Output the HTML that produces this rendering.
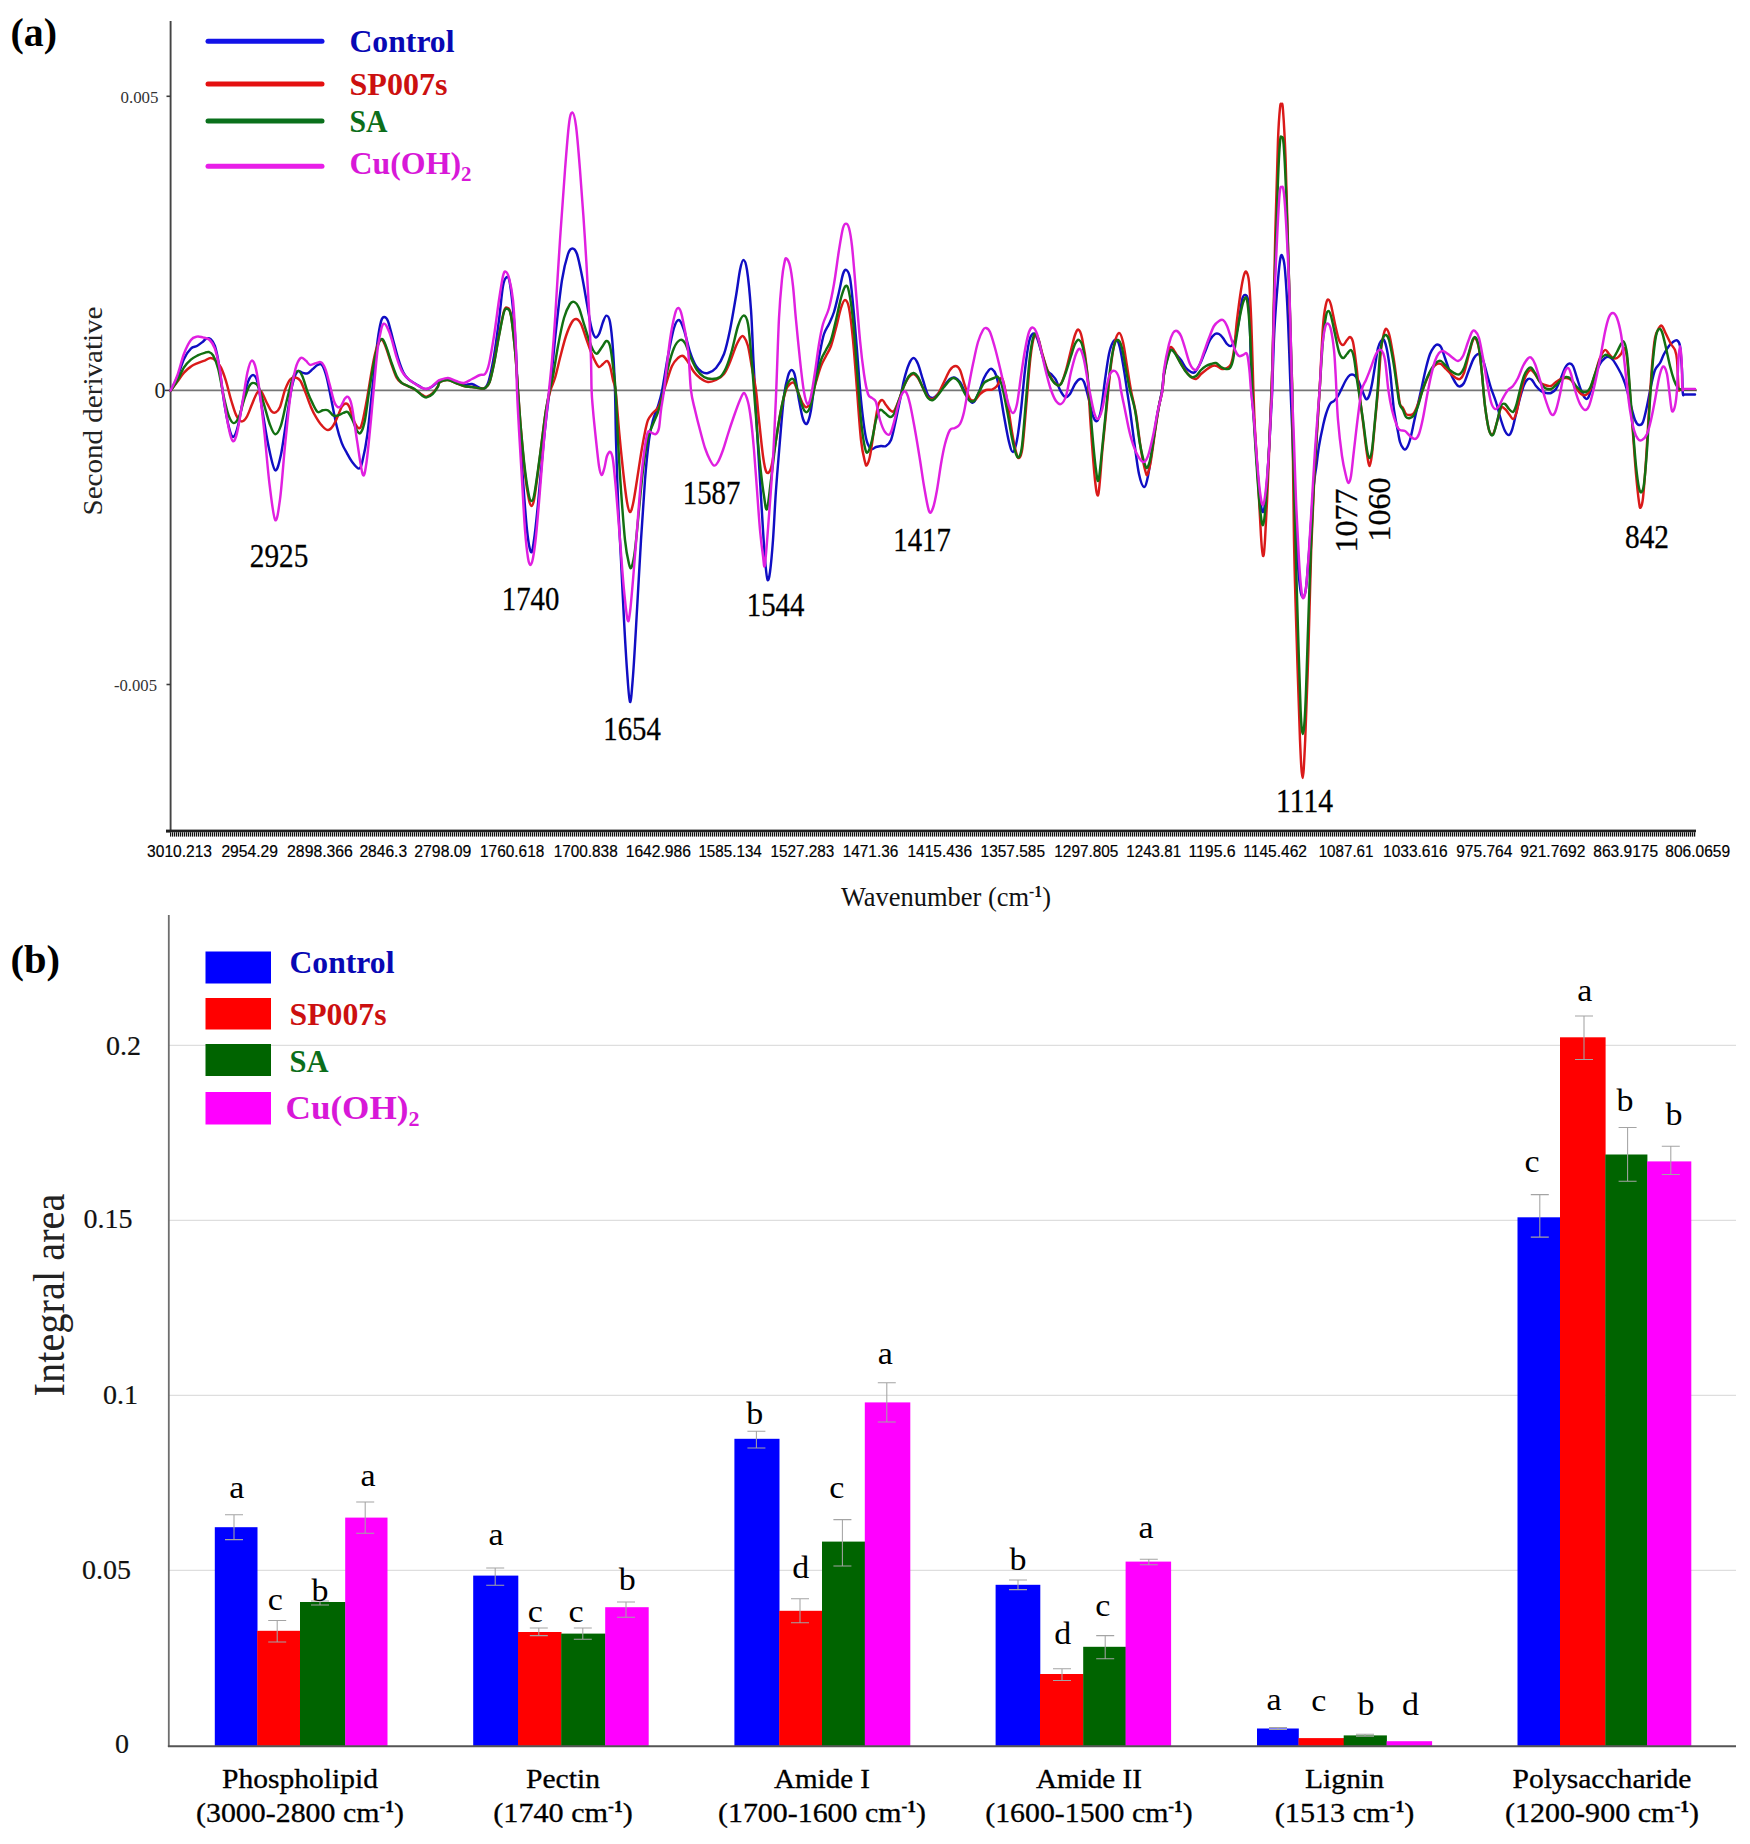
<!DOCTYPE html>
<html lang="en"><head><meta charset="utf-8"><title>FTIR second derivative spectra and integral areas</title>
<style>html,body{margin:0;padding:0;background:#fff}body{width:1750px;height:1844px;overflow:hidden}svg{display:block}.ser{font-family:'Liberation Serif', 'DejaVu Serif', serif}.san{font-family:'Liberation Sans', 'DejaVu Sans', sans-serif}</style></head><body>
<svg width="1750" height="1844" viewBox="0 0 1750 1844">
<rect width="1750" height="1844" fill="#fff"/>
<g id="panel-a">
<text x="10.5" y="46.0" font-size="39.5" class="ser" font-weight="bold" fill="#000" textLength="46.5" lengthAdjust="spacingAndGlyphs">(a)</text>
<line x1="170.6" y1="21" x2="170.6" y2="831.3" stroke="#444" stroke-width="1.9"/>
<line x1="170.6" y1="390.4" x2="1697" y2="390.4" stroke="#777" stroke-width="1.8"/>
<line x1="166.5" y1="96.3" x2="170.6" y2="96.3" stroke="#3c3c3c" stroke-width="1.6"/>
<line x1="166.5" y1="684.5" x2="170.6" y2="684.5" stroke="#3c3c3c" stroke-width="1.6"/>
<line x1="165" y1="390.4" x2="170.6" y2="390.4" stroke="#3c3c3c" stroke-width="1.6"/>
<text x="158.5" y="103.0" font-size="16.0" class="ser" text-anchor="end" fill="#333" textLength="38.0" lengthAdjust="spacingAndGlyphs">0.005</text>
<text x="157.0" y="691.0" font-size="16.0" class="ser" text-anchor="end" fill="#333" textLength="43.0" lengthAdjust="spacingAndGlyphs">-0.005</text>
<text x="165.5" y="398.0" font-size="23.0" class="ser" text-anchor="end" fill="#222" textLength="11.0" lengthAdjust="spacingAndGlyphs">0</text>
<text x="102.0" y="411.0" font-size="28.0" class="ser" text-anchor="middle" fill="#222" textLength="209.0" lengthAdjust="spacingAndGlyphs" transform="rotate(-90 102.0 411.0)">Second derivative</text>
<rect x="166" y="829.6" width="1530.0" height="3" fill="#1e1e1e"/>
<defs><pattern id="tk" x="170" y="832" width="2" height="5" patternUnits="userSpaceOnUse"><rect x="0" y="0" width="1" height="5" fill="#111"/><rect x="1" y="0" width="1" height="5" fill="#c4c4c4"/></pattern></defs>
<rect x="170" y="832.4" width="1526" height="4.2" fill="url(#tk)"/>
<text x="147.1" y="856.8" font-size="16.6" class="san" fill="#000" textLength="64.9" lengthAdjust="spacingAndGlyphs" stroke="#000" stroke-width="0.2">3010.213</text>
<text x="221.4" y="856.8" font-size="16.6" class="san" fill="#000" textLength="56.6" lengthAdjust="spacingAndGlyphs" stroke="#000" stroke-width="0.2">2954.29</text>
<text x="287.1" y="856.8" font-size="16.6" class="san" fill="#000" textLength="65.8" lengthAdjust="spacingAndGlyphs" stroke="#000" stroke-width="0.2">2898.366</text>
<text x="359.4" y="856.8" font-size="16.6" class="san" fill="#000" textLength="47.7" lengthAdjust="spacingAndGlyphs" stroke="#000" stroke-width="0.2">2846.3</text>
<text x="414.3" y="856.8" font-size="16.6" class="san" fill="#000" textLength="57.1" lengthAdjust="spacingAndGlyphs" stroke="#000" stroke-width="0.2">2798.09</text>
<text x="480.0" y="856.8" font-size="16.6" class="san" fill="#000" textLength="64.3" lengthAdjust="spacingAndGlyphs" stroke="#000" stroke-width="0.2">1760.618</text>
<text x="553.7" y="856.8" font-size="16.6" class="san" fill="#000" textLength="64.0" lengthAdjust="spacingAndGlyphs" stroke="#000" stroke-width="0.2">1700.838</text>
<text x="625.7" y="856.8" font-size="16.6" class="san" fill="#000" textLength="65.2" lengthAdjust="spacingAndGlyphs" stroke="#000" stroke-width="0.2">1642.986</text>
<text x="698.4" y="856.8" font-size="16.6" class="san" fill="#000" textLength="63.4" lengthAdjust="spacingAndGlyphs" stroke="#000" stroke-width="0.2">1585.134</text>
<text x="770.4" y="856.8" font-size="16.6" class="san" fill="#000" textLength="63.8" lengthAdjust="spacingAndGlyphs" stroke="#000" stroke-width="0.2">1527.283</text>
<text x="842.7" y="856.8" font-size="16.6" class="san" fill="#000" textLength="55.6" lengthAdjust="spacingAndGlyphs" stroke="#000" stroke-width="0.2">1471.36</text>
<text x="907.5" y="856.8" font-size="16.6" class="san" fill="#000" textLength="64.5" lengthAdjust="spacingAndGlyphs" stroke="#000" stroke-width="0.2">1415.436</text>
<text x="980.6" y="856.8" font-size="16.6" class="san" fill="#000" textLength="64.4" lengthAdjust="spacingAndGlyphs" stroke="#000" stroke-width="0.2">1357.585</text>
<text x="1054.3" y="856.8" font-size="16.6" class="san" fill="#000" textLength="64.1" lengthAdjust="spacingAndGlyphs" stroke="#000" stroke-width="0.2">1297.805</text>
<text x="1126.3" y="856.8" font-size="16.6" class="san" fill="#000" textLength="54.8" lengthAdjust="spacingAndGlyphs" stroke="#000" stroke-width="0.2">1243.81</text>
<text x="1188.4" y="856.8" font-size="16.6" class="san" fill="#000" textLength="47.3" lengthAdjust="spacingAndGlyphs" stroke="#000" stroke-width="0.2">1195.6</text>
<text x="1243.3" y="856.8" font-size="16.6" class="san" fill="#000" textLength="63.7" lengthAdjust="spacingAndGlyphs" stroke="#000" stroke-width="0.2">1145.462</text>
<text x="1318.7" y="856.8" font-size="16.6" class="san" fill="#000" textLength="54.8" lengthAdjust="spacingAndGlyphs" stroke="#000" stroke-width="0.2">1087.61</text>
<text x="1383.1" y="856.8" font-size="16.6" class="san" fill="#000" textLength="64.5" lengthAdjust="spacingAndGlyphs" stroke="#000" stroke-width="0.2">1033.616</text>
<text x="1456.2" y="856.8" font-size="16.6" class="san" fill="#000" textLength="56.2" lengthAdjust="spacingAndGlyphs" stroke="#000" stroke-width="0.2">975.764</text>
<text x="1520.3" y="856.8" font-size="16.6" class="san" fill="#000" textLength="65.1" lengthAdjust="spacingAndGlyphs" stroke="#000" stroke-width="0.2">921.7692</text>
<text x="1593.3" y="856.8" font-size="16.6" class="san" fill="#000" textLength="64.8" lengthAdjust="spacingAndGlyphs" stroke="#000" stroke-width="0.2">863.9175</text>
<text x="1665.3" y="856.8" font-size="16.6" class="san" fill="#000" textLength="64.8" lengthAdjust="spacingAndGlyphs" stroke="#000" stroke-width="0.2">806.0659</text>
<text x="946" y="906" font-size="27" class="ser" text-anchor="middle" fill="#111" textLength="210" lengthAdjust="spacingAndGlyphs">Wavenumber (cm<tspan font-size="16" dy="-9" font-weight="bold">-1</tspan><tspan dy="9">)</tspan></text>
<g stroke-width="5" stroke-linecap="round">
<line x1="208" y1="41.2" x2="322" y2="41.2" stroke="#1212e8"/>
<line x1="208" y1="84" x2="322" y2="84" stroke="#e41010"/>
<line x1="208" y1="121" x2="322" y2="121" stroke="#0a701c"/>
<line x1="208" y1="166.3" x2="322" y2="166.3" stroke="#e81ee8"/>
</g>
<text x="349.5" y="51.5" font-size="32.0" class="ser" font-weight="bold" fill="#0808b4" textLength="105.0" lengthAdjust="spacingAndGlyphs">Control</text>
<text x="349.5" y="95.3" font-size="32.0" class="ser" font-weight="bold" fill="#cc1010" textLength="98.0" lengthAdjust="spacingAndGlyphs">SP007s</text>
<text x="349.5" y="132.3" font-size="32.0" class="ser" font-weight="bold" fill="#0c6e1a" textLength="38.0" lengthAdjust="spacingAndGlyphs">SA</text>
<text x="349.5" y="174" font-size="32" class="ser" font-weight="bold" fill="#d818d8" textLength="122" lengthAdjust="spacingAndGlyphs">Cu(OH)<tspan font-size="21" dy="7">2</tspan></text>
<g fill="none" stroke-width="2.45" stroke-linejoin="round" stroke-linecap="round">
<path stroke="#100ec4" d="M170.6 390.6C171.7 388.4 174.9 383.0 177.1 377.7C179.4 372.4 181.7 363.7 184.0 358.9C186.3 354.0 188.7 350.7 190.9 348.6C193.0 346.4 194.9 347.1 196.9 346.0C198.9 344.9 201.3 342.9 202.9 341.7C204.4 340.5 205.0 339.1 206.3 338.6C207.6 338.2 209.1 337.9 210.6 339.1C212.0 340.4 213.4 341.6 214.9 346.0C216.3 350.4 217.6 356.1 219.1 365.7C220.7 375.3 222.6 392.9 224.3 403.4C226.0 414.0 227.9 423.6 229.4 429.1C230.9 434.7 231.9 437.4 233.4 436.9C234.8 436.3 236.4 431.9 238.0 425.7C239.6 419.6 241.4 407.4 243.1 400.0C244.9 392.6 246.6 385.3 248.3 381.1C250.0 377.0 251.9 374.9 253.4 375.1C255.0 375.4 256.1 376.4 257.7 382.9C259.3 389.3 261.0 402.9 262.9 413.7C264.7 424.6 266.8 438.6 268.9 448.0C270.9 457.4 273.2 469.1 275.2 470.3C277.2 471.4 278.9 463.7 280.9 454.9C282.8 446.0 285.0 428.6 286.9 417.1C288.7 405.7 290.3 393.9 292.0 386.3C293.7 378.7 295.4 374.0 297.1 371.7C298.9 369.4 300.6 372.3 302.3 372.6C304.0 372.9 305.7 374.0 307.4 373.4C309.1 372.9 310.9 370.6 312.6 369.1C314.3 367.7 316.1 365.6 317.7 364.9C319.3 364.1 320.6 363.0 322.0 364.9C323.4 366.7 324.7 370.1 326.3 376.0C327.9 381.9 329.7 391.7 331.4 400.0C333.1 408.3 334.9 418.6 336.6 425.7C338.3 432.9 340.0 438.3 341.7 442.9C343.4 447.4 345.1 450.0 346.9 453.1C348.6 456.3 350.0 459.1 352.0 461.7C354.0 464.3 357.1 468.6 358.9 468.6C360.6 468.6 360.9 467.4 362.3 461.7C363.7 456.0 365.7 446.9 367.4 434.3C369.1 421.7 370.9 402.0 372.6 386.3C374.3 370.6 376.3 350.9 377.7 340.0C379.1 329.1 380.1 325.0 381.1 321.1C382.2 317.3 383.1 316.9 384.2 316.9C385.4 316.9 386.5 317.3 388.0 321.1C389.5 325.0 391.4 333.7 393.1 340.0C394.9 346.3 396.6 353.4 398.3 358.9C400.0 364.3 401.7 369.1 403.4 372.6C405.1 376.0 406.6 377.6 408.6 379.4C410.6 381.3 413.1 382.3 415.4 383.7C417.7 385.1 420.3 387.1 422.3 388.0C424.3 388.9 425.7 389.1 427.4 388.9C429.1 388.6 430.9 387.4 432.6 386.3C434.3 385.1 436.5 382.9 437.7 382.0C439.0 381.1 438.3 381.5 440.0 381.0C441.7 380.5 445.3 378.8 448.0 379.0C450.7 379.2 453.3 381.0 456.0 382.0C458.7 383.0 461.3 384.7 464.0 385.0C466.7 385.3 469.3 383.5 472.0 384.0C474.7 384.5 477.8 387.3 480.0 388.0C482.2 388.7 483.5 389.3 485.0 388.0C486.5 386.7 487.5 385.3 489.0 380.0C490.5 374.7 492.3 366.0 494.0 356.0C495.7 346.0 497.5 331.7 499.0 320.0C500.5 308.3 501.7 293.2 503.0 286.0C504.3 278.8 505.8 277.3 507.0 277.0C508.2 276.7 508.8 276.8 510.0 284.0C511.2 291.2 512.9 307.3 514.0 320.0C515.1 332.7 515.8 348.3 516.4 360.0C517.0 371.7 517.0 378.7 517.6 390.4C518.2 402.1 519.1 415.1 520.0 430.0C520.9 444.9 521.8 463.3 523.0 480.0C524.2 496.7 525.7 518.0 527.0 530.0C528.3 542.0 529.8 550.3 531.0 552.0C532.2 553.7 532.8 548.0 534.0 540.0C535.2 532.0 536.7 517.3 538.0 504.0C539.3 490.7 540.7 474.0 542.0 460.0C543.3 446.0 544.7 431.6 546.0 420.0C547.3 408.4 548.6 398.7 549.6 390.4C550.6 382.1 550.9 380.1 552.0 370.0C553.1 359.9 554.3 345.0 556.0 330.0C557.7 315.0 560.0 292.7 562.0 280.0C564.0 267.3 566.3 259.3 568.0 254.0C569.7 248.7 570.9 248.4 572.4 248.4C573.9 248.4 575.4 249.4 577.0 254.0C578.6 258.6 580.3 267.7 582.0 276.0C583.7 284.3 585.5 295.7 587.0 304.0C588.5 312.3 589.7 320.5 591.0 326.0C592.3 331.5 593.7 335.7 595.0 337.0C596.3 338.3 597.7 336.5 599.0 334.0C600.3 331.5 601.8 325.1 603.0 322.0C604.2 318.9 605.2 315.6 606.4 315.6C607.6 315.6 608.9 316.3 610.0 322.0C611.1 327.7 612.2 338.6 613.0 350.0C613.8 361.4 614.5 375.4 615.0 390.4C615.5 405.4 615.5 421.7 616.0 440.0C616.5 458.3 617.2 480.0 618.0 500.0C618.8 520.0 620.0 540.0 621.0 560.0C622.0 580.0 623.0 601.7 624.0 620.0C625.0 638.3 626.0 656.3 627.0 670.0C628.0 683.7 629.0 701.0 630.0 702.0C631.0 703.0 631.8 691.3 633.0 676.0C634.2 660.7 635.7 632.7 637.0 610.0C638.3 587.3 639.7 561.7 641.0 540.0C642.3 518.3 643.7 496.7 645.0 480.0C646.3 463.3 647.7 450.0 649.0 440.0C650.3 430.0 651.5 425.7 653.0 420.0C654.5 414.3 656.5 410.8 658.0 406.0C659.5 401.2 660.3 399.3 662.0 391.0C663.7 382.7 666.0 366.5 668.0 356.0C670.0 345.5 672.2 334.0 674.0 328.0C675.8 322.0 677.3 319.7 679.0 320.0C680.7 320.3 682.2 324.7 684.0 330.0C685.8 335.3 688.0 346.0 690.0 352.0C692.0 358.0 694.0 362.7 696.0 366.0C698.0 369.3 700.0 370.8 702.0 372.0C704.0 373.2 705.7 373.7 708.0 373.0C710.3 372.3 713.3 371.2 716.0 368.0C718.7 364.8 721.7 360.3 724.0 354.0C726.3 347.7 728.0 339.7 730.0 330.0C732.0 320.3 734.3 306.0 736.0 296.0C737.7 286.0 738.8 276.0 740.0 270.0C741.2 264.0 742.2 260.0 743.4 260.0C744.6 260.0 745.7 261.7 747.0 270.0C748.3 278.3 749.9 295.0 751.0 310.0C752.1 325.0 752.7 346.6 753.4 360.0C754.1 373.4 754.4 378.7 755.0 390.4C755.6 402.1 756.2 415.1 757.0 430.0C757.8 444.9 759.0 463.3 760.0 480.0C761.0 496.7 762.1 515.7 763.0 530.0C763.9 544.3 764.8 557.7 765.6 566.0C766.4 574.3 766.9 579.0 767.6 580.0C768.3 581.0 769.1 578.7 770.0 572.0C770.9 565.3 772.0 553.7 773.0 540.0C774.0 526.3 774.8 506.7 776.0 490.0C777.2 473.3 778.7 455.7 780.0 440.0C781.3 424.3 782.7 406.7 784.0 396.0C785.3 385.3 786.7 380.3 788.0 376.0C789.3 371.7 790.4 370.0 791.6 370.0C792.8 370.0 793.8 371.0 795.0 376.0C796.2 381.0 797.7 392.8 799.0 400.0C800.3 407.2 801.7 415.1 803.0 419.0C804.3 422.9 805.7 425.1 807.0 423.6C808.3 422.1 809.7 417.3 811.0 410.0C812.3 402.7 813.5 389.7 815.0 380.0C816.5 370.3 818.5 359.7 820.0 352.0C821.5 344.3 822.5 338.7 824.0 334.0C825.5 329.3 827.3 327.7 829.0 324.0C830.7 320.3 832.3 317.3 834.0 312.0C835.7 306.7 837.5 298.3 839.0 292.0C840.5 285.7 841.8 277.7 843.0 274.0C844.2 270.3 845.2 269.3 846.4 270.0C847.6 270.7 848.9 272.3 850.0 278.0C851.1 283.7 851.8 292.0 853.0 304.0C854.2 316.0 855.7 334.0 857.0 350.0C858.3 366.0 859.5 385.3 861.0 400.0C862.5 414.7 864.3 429.8 866.0 438.0C867.7 446.2 869.3 447.5 871.0 449.0C872.7 450.5 874.3 447.5 876.0 447.0C877.7 446.5 879.3 446.2 881.0 446.0C882.7 445.8 884.3 447.0 886.0 446.0C887.7 445.0 889.5 443.7 891.0 440.0C892.5 436.3 893.5 430.7 895.0 424.0C896.5 417.3 898.5 407.3 900.0 400.0C901.5 392.7 902.5 386.0 904.0 380.0C905.5 374.0 907.4 367.7 909.0 364.0C910.6 360.3 912.1 358.0 913.6 358.0C915.1 358.0 916.4 360.3 918.0 364.0C919.6 367.7 921.3 374.8 923.0 380.0C924.7 385.2 926.3 392.0 928.0 395.0C929.7 398.0 931.3 398.2 933.0 398.0C934.7 397.8 936.2 396.0 938.0 394.0C939.8 392.0 942.0 388.5 944.0 386.0C946.0 383.5 948.2 380.4 950.0 379.0C951.8 377.6 953.3 377.1 955.0 377.6C956.7 378.1 958.3 379.6 960.0 382.0C961.7 384.4 963.3 388.8 965.0 392.0C966.7 395.2 968.5 399.3 970.0 401.0C971.5 402.7 972.5 403.5 974.0 402.0C975.5 400.5 977.3 396.0 979.0 392.0C980.7 388.0 982.3 381.7 984.0 378.0C985.7 374.3 987.7 371.5 989.0 370.0C990.3 368.5 990.8 368.2 992.0 369.0C993.2 369.8 994.7 371.2 996.0 375.0C997.3 378.8 998.7 385.2 1000.0 392.0C1001.3 398.8 1002.5 407.7 1004.0 416.0C1005.5 424.3 1007.5 436.0 1009.0 442.0C1010.5 448.0 1011.7 452.3 1013.0 452.0C1014.3 451.7 1015.7 447.0 1017.0 440.0C1018.3 433.0 1019.7 421.7 1021.0 410.0C1022.3 398.3 1023.7 381.3 1025.0 370.0C1026.3 358.7 1027.7 348.1 1029.0 342.0C1030.3 335.9 1031.7 334.3 1033.0 333.6C1034.3 332.9 1035.5 334.6 1037.0 338.0C1038.5 341.4 1040.3 348.7 1042.0 354.0C1043.7 359.3 1045.3 366.5 1047.0 370.0C1048.7 373.5 1050.5 373.3 1052.0 375.0C1053.5 376.7 1054.7 377.5 1056.0 380.0C1057.3 382.5 1058.5 387.2 1060.0 390.0C1061.5 392.8 1063.3 396.3 1065.0 397.0C1066.7 397.7 1068.3 396.2 1070.0 394.0C1071.7 391.8 1073.3 386.5 1075.0 384.0C1076.7 381.5 1078.5 379.3 1080.0 379.0C1081.5 378.7 1082.5 378.5 1084.0 382.0C1085.5 385.5 1087.5 394.3 1089.0 400.0C1090.5 405.7 1091.7 412.5 1093.0 416.0C1094.3 419.5 1095.7 422.0 1097.0 421.0C1098.3 420.0 1099.7 416.8 1101.0 410.0C1102.3 403.2 1103.7 389.3 1105.0 380.0C1106.3 370.7 1107.7 360.3 1109.0 354.0C1110.3 347.7 1111.7 344.3 1113.0 342.0C1114.3 339.7 1115.8 339.0 1117.0 340.0C1118.2 341.0 1118.8 343.0 1120.0 348.0C1121.2 353.0 1122.8 362.9 1124.0 370.0C1125.2 377.1 1126.0 383.7 1127.0 390.4C1128.0 397.1 1128.8 401.7 1130.0 410.0C1131.2 418.3 1132.5 429.3 1134.0 440.0C1135.5 450.7 1137.3 466.2 1139.0 474.0C1140.7 481.8 1142.5 486.7 1144.0 487.0C1145.5 487.3 1146.7 482.2 1148.0 476.0C1149.3 469.8 1150.5 460.0 1152.0 450.0C1153.5 440.0 1155.3 425.9 1157.0 416.0C1158.7 406.1 1160.8 397.4 1162.0 390.4C1163.2 383.4 1162.8 380.4 1164.0 374.0C1165.2 367.6 1167.7 356.0 1169.0 352.0C1170.3 348.0 1170.8 349.7 1172.0 350.0C1173.2 350.3 1174.5 352.3 1176.0 354.0C1177.5 355.7 1179.3 357.7 1181.0 360.0C1182.7 362.3 1184.3 366.0 1186.0 368.0C1187.7 370.0 1189.5 371.3 1191.0 372.0C1192.5 372.7 1193.5 373.3 1195.0 372.0C1196.5 370.7 1198.3 367.3 1200.0 364.0C1201.7 360.7 1203.3 356.0 1205.0 352.0C1206.7 348.0 1208.3 343.0 1210.0 340.0C1211.7 337.0 1213.5 335.0 1215.0 334.0C1216.5 333.0 1217.7 333.3 1219.0 334.0C1220.3 334.7 1221.7 336.3 1223.0 338.0C1224.3 339.7 1225.7 342.7 1227.0 344.0C1228.3 345.3 1229.7 346.7 1231.0 346.0C1232.3 345.3 1233.7 344.3 1235.0 340.0C1236.3 335.7 1237.8 326.7 1239.0 320.0C1240.2 313.3 1241.0 304.2 1242.0 300.0C1243.0 295.8 1244.0 295.0 1245.0 295.0C1246.0 295.0 1247.2 294.2 1248.0 300.0C1248.8 305.8 1249.4 314.9 1250.0 330.0C1250.6 345.1 1250.9 375.4 1251.6 390.4C1252.3 405.4 1253.1 407.7 1254.0 420.0C1254.9 432.3 1256.0 451.0 1257.0 464.0C1258.0 477.0 1259.0 490.0 1260.0 498.0C1261.0 506.0 1262.0 512.7 1263.0 512.0C1264.0 511.3 1265.0 504.3 1266.0 494.0C1267.0 483.7 1268.1 464.0 1269.0 450.0C1269.9 436.0 1270.7 419.9 1271.2 410.0C1271.7 400.1 1271.7 403.7 1272.2 390.4C1272.7 377.1 1273.4 348.4 1274.4 330.0C1275.4 311.6 1277.0 292.0 1278.0 280.0C1279.0 268.0 1279.7 261.9 1280.4 258.0C1281.1 254.1 1281.6 254.4 1282.4 256.4C1283.2 258.4 1284.1 259.4 1285.0 270.0C1285.9 280.6 1287.1 299.9 1288.0 320.0C1288.9 340.1 1289.9 372.1 1290.6 390.4C1291.3 408.7 1291.5 411.7 1292.2 430.0C1292.9 448.3 1293.7 478.3 1294.6 500.0C1295.5 521.7 1296.6 545.0 1297.6 560.0C1298.6 575.0 1299.5 583.8 1300.4 590.0C1301.3 596.2 1302.3 597.3 1303.2 597.0C1304.1 596.7 1305.0 595.8 1306.0 588.0C1307.0 580.2 1308.1 564.3 1309.2 550.0C1310.3 535.7 1311.5 513.7 1312.4 502.0C1313.3 490.3 1313.7 486.0 1314.4 480.0C1315.1 474.0 1315.6 471.7 1316.4 466.0C1317.2 460.3 1317.9 452.7 1319.0 446.0C1320.1 439.3 1321.8 431.3 1323.0 426.0C1324.2 420.7 1324.8 417.7 1326.0 414.0C1327.2 410.3 1328.7 406.2 1330.0 404.0C1331.3 401.8 1332.7 402.3 1334.0 401.0C1335.3 399.7 1336.7 398.2 1338.0 396.0C1339.3 393.8 1340.7 390.7 1342.0 388.0C1343.3 385.3 1344.7 382.2 1346.0 380.0C1347.3 377.8 1348.7 375.8 1350.0 375.0C1351.3 374.2 1352.7 374.2 1354.0 375.0C1355.3 375.8 1356.7 377.5 1358.0 380.0C1359.3 382.5 1360.7 386.8 1362.0 390.0C1363.3 393.2 1364.8 398.0 1366.0 399.0C1367.2 400.0 1368.0 398.5 1369.0 396.0C1370.0 393.5 1371.0 389.0 1372.0 384.0C1373.0 379.0 1374.0 372.0 1375.0 366.0C1376.0 360.0 1377.0 352.2 1378.0 348.0C1379.0 343.8 1380.0 342.3 1381.0 341.0C1382.0 339.7 1383.0 338.5 1384.0 340.0C1385.0 341.5 1386.0 345.0 1387.0 350.0C1388.0 355.0 1389.2 363.3 1390.0 370.0C1390.8 376.7 1391.3 383.7 1392.0 390.4C1392.7 397.1 1393.0 403.1 1394.0 410.0C1395.0 416.9 1397.0 426.7 1398.0 432.0C1399.0 437.3 1399.2 439.3 1400.0 442.0C1400.8 444.7 1402.0 446.8 1403.0 448.0C1404.0 449.2 1404.8 450.3 1406.0 449.0C1407.2 447.7 1408.7 444.5 1410.0 440.0C1411.3 435.5 1412.7 428.0 1414.0 422.0C1415.3 416.0 1416.7 410.0 1418.0 404.0C1419.3 398.0 1420.7 392.0 1422.0 386.0C1423.3 380.0 1424.7 373.3 1426.0 368.0C1427.3 362.7 1428.7 357.5 1430.0 354.0C1431.3 350.5 1432.8 348.6 1434.0 347.0C1435.2 345.4 1435.8 344.4 1437.0 344.4C1438.2 344.4 1439.7 344.7 1441.0 347.0C1442.3 349.3 1443.5 353.8 1445.0 358.0C1446.5 362.2 1448.3 368.0 1450.0 372.0C1451.7 376.0 1453.5 379.6 1455.0 382.0C1456.5 384.4 1457.5 386.2 1459.0 386.4C1460.5 386.6 1462.3 385.7 1464.0 383.0C1465.7 380.3 1467.3 374.2 1469.0 370.0C1470.7 365.8 1472.3 360.7 1474.0 358.0C1475.7 355.3 1477.5 353.7 1479.0 354.0C1480.5 354.3 1481.7 356.7 1483.0 360.0C1484.3 363.3 1485.7 369.3 1487.0 374.0C1488.3 378.7 1489.5 383.3 1491.0 388.0C1492.5 392.7 1494.3 396.7 1496.0 402.0C1497.7 407.3 1499.5 415.2 1501.0 420.0C1502.5 424.8 1503.7 428.5 1505.0 431.0C1506.3 433.5 1507.8 435.2 1509.0 435.0C1510.2 434.8 1510.8 433.5 1512.0 430.0C1513.2 426.5 1514.7 419.3 1516.0 414.0C1517.3 408.7 1518.7 402.8 1520.0 398.0C1521.3 393.2 1522.7 388.2 1524.0 385.0C1525.3 381.8 1526.7 379.8 1528.0 379.0C1529.3 378.2 1530.7 378.8 1532.0 380.0C1533.3 381.2 1534.5 384.2 1536.0 386.0C1537.5 387.8 1539.3 389.8 1541.0 391.0C1542.7 392.2 1544.3 392.7 1546.0 393.0C1547.7 393.3 1549.3 393.7 1551.0 393.0C1552.7 392.3 1554.3 391.5 1556.0 389.0C1557.7 386.5 1559.5 381.5 1561.0 378.0C1562.5 374.5 1563.7 370.4 1565.0 368.0C1566.3 365.6 1567.7 363.9 1569.0 363.6C1570.3 363.3 1571.7 363.6 1573.0 366.0C1574.3 368.4 1575.7 374.0 1577.0 378.0C1578.3 382.0 1579.7 386.7 1581.0 390.0C1582.3 393.3 1583.8 396.7 1585.0 398.0C1586.2 399.3 1587.0 399.3 1588.0 398.0C1589.0 396.7 1589.8 393.7 1591.0 390.0C1592.2 386.3 1593.5 380.3 1595.0 376.0C1596.5 371.7 1598.3 367.0 1600.0 364.0C1601.7 361.0 1603.5 359.2 1605.0 358.0C1606.5 356.8 1607.7 356.7 1609.0 357.0C1610.3 357.3 1611.5 358.2 1613.0 360.0C1614.5 361.8 1616.3 365.0 1618.0 368.0C1619.7 371.0 1621.5 374.3 1623.0 378.0C1624.5 381.7 1625.7 385.3 1627.0 390.0C1628.3 394.7 1629.7 401.0 1631.0 406.0C1632.3 411.0 1633.7 416.8 1635.0 420.0C1636.3 423.2 1637.7 424.7 1639.0 425.0C1640.3 425.3 1641.7 425.2 1643.0 422.0C1644.3 418.8 1645.7 412.0 1647.0 406.0C1648.3 400.0 1649.7 392.0 1651.0 386.0C1652.3 380.0 1653.5 373.8 1655.0 370.0C1656.5 366.2 1658.5 365.7 1660.0 363.0C1661.5 360.3 1662.5 356.8 1664.0 354.0C1665.5 351.2 1667.5 348.0 1669.0 346.0C1670.5 344.0 1671.7 342.9 1673.0 342.0C1674.3 341.1 1675.8 339.7 1677.0 340.4C1678.2 341.1 1679.2 341.1 1680.0 346.0C1680.8 350.9 1681.5 362.2 1682.0 370.0C1682.5 377.8 1682.4 388.9 1682.8 393.0C1683.2 397.1 1683.4 394.2 1684.4 394.4C1685.4 394.6 1687.2 394.4 1689.0 394.4C1690.8 394.4 1694.0 394.4 1695.0 394.4"/>
<path stroke="#da1a1a" d="M170.6 390.6C171.7 389.1 174.9 385.0 177.1 382.0C179.4 379.0 181.7 375.1 184.0 372.6C186.3 370.0 188.6 368.1 190.9 366.6C193.1 365.0 195.4 364.1 197.7 363.1C200.0 362.1 202.4 361.4 204.6 360.6C206.7 359.7 208.7 358.0 210.6 358.0C212.4 358.0 214.0 359.0 215.7 360.6C217.4 362.1 219.1 364.0 220.9 367.4C222.6 370.9 224.3 375.7 226.0 381.1C227.7 386.6 229.4 394.3 231.1 400.0C232.9 405.7 234.6 411.9 236.3 415.4C238.0 419.0 239.7 421.1 241.4 421.4C243.1 421.7 244.9 419.9 246.6 417.1C248.3 414.4 250.0 409.1 251.7 405.1C253.4 401.1 255.3 395.4 256.9 393.1C258.4 390.9 259.6 390.0 261.1 391.4C262.7 392.9 264.6 398.4 266.3 401.7C268.0 405.0 269.9 409.4 271.4 411.1C273.0 412.9 274.3 413.1 275.7 412.3C277.1 411.6 278.4 410.6 280.0 406.9C281.6 403.1 283.4 394.3 285.1 389.7C286.9 385.1 288.4 381.4 290.3 379.4C292.1 377.4 294.6 377.4 296.3 377.7C298.0 378.0 299.0 378.6 300.6 381.1C302.1 383.7 304.0 388.9 305.7 393.1C307.4 397.4 309.1 402.9 310.9 406.9C312.6 410.9 314.1 414.0 316.0 417.1C317.9 420.3 320.0 423.6 322.0 425.7C324.0 427.9 326.1 430.0 328.0 430.0C329.9 430.0 331.6 427.9 333.1 425.7C334.7 423.6 336.0 420.3 337.4 417.1C338.9 414.0 340.3 409.1 341.7 406.9C343.1 404.6 344.7 403.4 346.0 403.4C347.3 403.4 348.1 404.0 349.4 406.9C350.7 409.7 352.1 417.0 353.7 420.6C355.3 424.1 357.4 428.0 358.9 428.3C360.3 428.6 360.9 427.6 362.3 422.3C363.7 417.0 365.7 406.0 367.4 396.6C369.1 387.1 371.0 374.0 372.6 365.7C374.1 357.4 375.6 351.1 376.9 346.9C378.1 342.6 379.3 341.0 380.3 340.0C381.3 339.0 381.9 339.4 382.9 340.9C383.9 342.3 384.9 344.7 386.3 348.6C387.7 352.4 389.7 359.1 391.4 364.0C393.1 368.9 394.9 374.6 396.6 377.7C398.3 380.9 399.7 381.4 401.7 382.9C403.7 384.3 406.3 385.1 408.6 386.3C410.9 387.4 413.1 388.3 415.4 389.7C417.7 391.1 420.4 393.7 422.3 394.9C424.1 396.0 424.9 396.9 426.6 396.6C428.3 396.3 430.7 394.8 432.6 393.1C434.4 391.5 436.5 388.5 437.7 386.6C439.0 384.8 438.3 383.1 440.0 382.0C441.7 380.9 445.3 379.8 448.0 380.0C450.7 380.2 453.3 382.0 456.0 383.0C458.7 384.0 461.3 385.3 464.0 386.0C466.7 386.7 469.3 386.6 472.0 387.0C474.7 387.4 477.8 388.2 480.0 388.4C482.2 388.6 483.4 389.1 485.0 388.0C486.6 386.9 488.1 386.2 489.6 382.0C491.1 377.8 492.4 370.8 494.0 363.0C495.6 355.2 497.3 343.7 499.0 335.0C500.7 326.3 502.6 315.5 504.0 311.0C505.4 306.5 506.4 307.3 507.6 308.0C508.8 308.7 509.8 308.0 511.0 315.0C512.2 322.0 513.8 337.4 515.0 350.0C516.2 362.6 517.0 377.1 518.0 390.4C519.0 403.7 519.8 416.1 521.0 430.0C522.2 443.9 523.7 462.3 525.0 474.0C526.3 485.7 527.9 494.7 529.0 500.0C530.1 505.3 530.8 506.0 531.6 506.0C532.4 506.0 532.9 505.7 534.0 500.0C535.1 494.3 536.7 482.0 538.0 472.0C539.3 462.0 540.7 450.3 542.0 440.0C543.3 429.7 544.6 418.3 546.0 410.0C547.4 401.7 548.9 395.7 550.4 390.4C551.9 385.1 553.4 383.4 555.0 378.0C556.6 372.6 558.2 365.0 560.0 358.0C561.8 351.0 564.0 342.0 566.0 336.0C568.0 330.0 570.3 324.8 572.0 322.0C573.7 319.2 574.9 318.7 576.4 319.0C577.9 319.3 579.4 320.8 581.0 324.0C582.6 327.2 584.3 333.3 586.0 338.0C587.7 342.7 589.5 348.2 591.0 352.0C592.5 355.8 593.7 358.5 595.0 361.0C596.3 363.5 597.7 366.5 599.0 367.0C600.3 367.5 601.7 365.0 603.0 364.0C604.3 363.0 605.8 360.7 607.0 361.0C608.2 361.3 609.0 362.8 610.0 366.0C611.0 369.2 612.1 375.9 613.0 380.0C613.9 384.1 614.6 382.1 615.6 390.4C616.6 398.7 617.8 416.7 619.0 430.0C620.2 443.3 621.7 458.0 623.0 470.0C624.3 482.0 625.8 495.0 627.0 502.0C628.2 509.0 629.0 511.7 630.0 512.0C631.0 512.3 631.8 509.3 633.0 504.0C634.2 498.7 635.7 488.3 637.0 480.0C638.3 471.7 639.7 462.0 641.0 454.0C642.3 446.0 643.8 437.7 645.0 432.0C646.2 426.3 646.8 423.0 648.0 420.0C649.2 417.0 650.7 415.7 652.0 414.0C653.3 412.3 654.8 411.3 656.0 410.0C657.2 408.7 657.8 408.7 659.0 406.0C660.2 403.3 661.8 397.7 663.0 394.0C664.2 390.3 664.5 388.7 666.0 384.0C667.5 379.3 670.0 370.3 672.0 366.0C674.0 361.7 676.2 359.7 678.0 358.0C679.8 356.3 681.3 355.3 683.0 356.0C684.7 356.7 686.2 359.3 688.0 362.0C689.8 364.7 692.0 369.3 694.0 372.0C696.0 374.7 697.7 376.3 700.0 378.0C702.3 379.7 705.3 381.7 708.0 382.0C710.7 382.3 713.3 381.3 716.0 380.0C718.7 378.7 721.7 377.0 724.0 374.0C726.3 371.0 728.0 366.7 730.0 362.0C732.0 357.3 734.2 350.2 736.0 346.0C737.8 341.8 739.7 338.5 741.0 337.0C742.3 335.5 742.8 335.5 744.0 337.0C745.2 338.5 746.7 340.8 748.0 346.0C749.3 351.2 750.7 360.6 752.0 368.0C753.3 375.4 754.8 381.7 756.0 390.4C757.2 399.1 757.8 409.1 759.0 420.0C760.2 430.9 761.8 447.3 763.0 456.0C764.2 464.7 765.1 470.0 766.4 472.0C767.7 474.0 769.4 473.3 771.0 468.0C772.6 462.7 774.3 449.7 776.0 440.0C777.7 430.3 779.3 418.3 781.0 410.0C782.7 401.7 784.5 394.3 786.0 390.0C787.5 385.7 788.7 385.2 790.0 384.0C791.3 382.8 792.7 381.7 794.0 383.0C795.3 384.3 796.5 388.5 798.0 392.0C799.5 395.5 801.5 401.5 803.0 404.0C804.5 406.5 805.7 407.7 807.0 407.0C808.3 406.3 809.5 404.2 811.0 400.0C812.5 395.8 814.3 387.7 816.0 382.0C817.7 376.3 819.3 370.3 821.0 366.0C822.7 361.7 824.3 359.3 826.0 356.0C827.7 352.7 829.3 350.7 831.0 346.0C832.7 341.3 834.3 334.3 836.0 328.0C837.7 321.7 839.5 312.7 841.0 308.0C842.5 303.3 843.7 300.0 845.0 300.0C846.3 300.0 847.7 301.3 849.0 308.0C850.3 314.7 851.7 326.3 853.0 340.0C854.3 353.7 855.7 373.3 857.0 390.0C858.3 406.7 859.7 428.0 861.0 440.0C862.3 452.0 864.0 457.8 865.0 462.0C866.0 466.2 866.2 466.0 867.0 465.0C867.8 464.0 868.8 461.8 870.0 456.0C871.2 450.2 872.7 438.3 874.0 430.0C875.3 421.7 876.7 411.0 878.0 406.0C879.3 401.0 880.7 400.2 882.0 400.0C883.3 399.8 884.7 403.3 886.0 405.0C887.3 406.7 888.7 409.0 890.0 410.0C891.3 411.0 892.5 412.7 894.0 411.0C895.5 409.3 897.3 404.2 899.0 400.0C900.7 395.8 902.3 389.8 904.0 386.0C905.7 382.2 907.4 379.0 909.0 377.0C910.6 375.0 912.1 373.8 913.6 374.0C915.1 374.2 916.4 375.7 918.0 378.0C919.6 380.3 921.3 384.8 923.0 388.0C924.7 391.2 926.3 395.2 928.0 397.0C929.7 398.8 931.3 399.5 933.0 399.0C934.7 398.5 936.2 396.8 938.0 394.0C939.8 391.2 942.0 386.0 944.0 382.0C946.0 378.0 948.1 372.7 950.0 370.0C951.9 367.3 953.9 366.0 955.6 366.0C957.3 366.0 958.4 366.7 960.0 370.0C961.6 373.3 963.3 381.2 965.0 386.0C966.7 390.8 968.3 396.7 970.0 399.0C971.7 401.3 973.3 400.8 975.0 400.0C976.7 399.2 978.2 395.7 980.0 394.0C981.8 392.3 984.0 390.7 986.0 390.0C988.0 389.3 990.2 390.3 992.0 389.6C993.8 388.9 995.5 387.9 997.0 386.0C998.5 384.1 999.8 378.3 1001.0 378.0C1002.2 377.7 1002.8 379.3 1004.0 384.0C1005.2 388.7 1006.7 398.0 1008.0 406.0C1009.3 414.0 1010.7 424.3 1012.0 432.0C1013.3 439.7 1014.8 447.7 1016.0 452.0C1017.2 456.3 1017.9 458.7 1019.0 458.0C1020.1 457.3 1021.2 457.0 1022.4 448.0C1023.6 439.0 1025.1 419.0 1026.4 404.0C1027.7 389.0 1029.1 369.3 1030.4 358.0C1031.7 346.7 1033.1 339.2 1034.4 336.0C1035.7 332.8 1037.1 336.0 1038.4 339.0C1039.7 342.0 1040.9 348.8 1042.4 354.0C1043.9 359.2 1045.7 365.7 1047.4 370.0C1049.1 374.3 1050.7 377.5 1052.4 380.0C1054.1 382.5 1055.9 384.5 1057.4 385.0C1058.9 385.5 1060.0 385.5 1061.4 383.0C1062.8 380.5 1064.4 375.5 1066.0 370.0C1067.6 364.5 1069.5 355.8 1071.0 350.0C1072.5 344.2 1073.8 338.4 1075.0 335.0C1076.2 331.6 1077.2 329.1 1078.4 329.6C1079.6 330.1 1080.6 331.3 1082.0 338.0C1083.4 344.7 1085.5 354.7 1087.0 370.0C1088.5 385.3 1089.7 411.7 1091.0 430.0C1092.3 448.3 1093.8 469.3 1095.0 480.0C1096.2 490.7 1097.2 499.0 1098.4 494.0C1099.6 489.0 1101.1 464.0 1102.4 450.0C1103.7 436.0 1105.1 423.3 1106.4 410.0C1107.7 396.7 1109.1 381.0 1110.4 370.0C1111.7 359.0 1113.0 350.2 1114.4 344.0C1115.8 337.8 1117.6 333.3 1119.0 333.0C1120.4 332.7 1121.7 336.5 1123.0 342.0C1124.3 347.5 1125.7 357.9 1127.0 366.0C1128.3 374.1 1129.5 382.4 1131.0 390.4C1132.5 398.4 1134.3 404.1 1136.0 414.0C1137.7 423.9 1139.4 440.3 1141.0 450.0C1142.6 459.7 1144.5 468.0 1145.6 472.0C1146.7 476.0 1146.7 476.0 1147.6 474.0C1148.5 472.0 1149.8 467.0 1151.0 460.0C1152.2 453.0 1153.7 441.0 1155.0 432.0C1156.3 423.0 1157.8 412.9 1159.0 406.0C1160.2 399.1 1161.6 395.7 1162.4 390.4C1163.2 385.1 1163.1 380.4 1164.0 374.0C1164.9 367.6 1166.8 356.5 1168.0 352.0C1169.2 347.5 1169.8 347.0 1171.0 347.0C1172.2 347.0 1173.5 349.5 1175.0 352.0C1176.5 354.5 1178.3 359.0 1180.0 362.0C1181.7 365.0 1183.3 367.7 1185.0 370.0C1186.7 372.3 1188.2 374.5 1190.0 376.0C1191.8 377.5 1194.2 379.3 1196.0 379.0C1197.8 378.7 1199.3 375.5 1201.0 374.0C1202.7 372.5 1204.2 371.3 1206.0 370.0C1207.8 368.7 1210.2 366.7 1212.0 366.0C1213.8 365.3 1215.3 365.5 1217.0 366.0C1218.7 366.5 1220.3 368.7 1222.0 369.0C1223.7 369.3 1225.5 368.8 1227.0 368.0C1228.5 367.2 1229.8 367.0 1231.0 364.0C1232.2 361.0 1233.0 357.3 1234.0 350.0C1235.0 342.7 1235.8 330.0 1237.0 320.0C1238.2 310.0 1239.8 297.5 1241.0 290.0C1242.2 282.5 1243.1 278.0 1244.0 275.0C1244.9 272.0 1245.6 270.8 1246.4 272.0C1247.2 273.2 1248.2 274.0 1249.0 282.0C1249.8 290.0 1250.6 305.3 1251.2 320.0C1251.8 334.7 1252.4 358.3 1252.8 370.0C1253.2 381.7 1253.0 380.4 1253.4 390.4C1253.8 400.4 1254.2 415.1 1255.0 430.0C1255.8 444.9 1257.0 462.3 1258.0 480.0C1259.0 497.7 1260.2 523.3 1261.0 536.0C1261.8 548.7 1262.3 555.3 1263.0 556.0C1263.7 556.7 1264.2 552.7 1265.0 540.0C1265.8 527.3 1267.1 500.0 1268.0 480.0C1268.9 460.0 1269.6 434.9 1270.2 420.0C1270.8 405.1 1271.0 402.1 1271.4 390.4C1271.8 378.7 1272.1 376.7 1272.8 350.0C1273.5 323.3 1274.5 265.0 1275.4 230.0C1276.3 195.0 1277.2 160.3 1278.0 140.0C1278.8 119.7 1279.4 113.9 1280.0 108.0C1280.6 102.1 1280.9 104.1 1281.4 104.4C1281.9 104.7 1282.3 100.7 1283.0 110.0C1283.7 119.3 1284.7 135.0 1285.6 160.0C1286.5 185.0 1287.5 226.7 1288.4 260.0C1289.3 293.3 1290.6 338.3 1291.2 360.0C1291.8 381.7 1291.7 360.4 1292.2 390.4C1292.7 420.4 1293.2 496.7 1294.0 540.0C1294.8 583.3 1296.0 616.7 1297.0 650.0C1298.0 683.3 1299.1 718.7 1300.0 740.0C1300.9 761.3 1301.7 778.0 1302.6 778.0C1303.5 778.0 1304.2 761.3 1305.2 740.0C1306.2 718.7 1307.4 681.7 1308.4 650.0C1309.4 618.3 1310.2 578.3 1311.2 550.0C1312.2 521.7 1313.2 500.0 1314.2 480.0C1315.2 460.0 1316.3 444.9 1317.2 430.0C1318.1 415.1 1318.6 407.7 1319.6 390.4C1320.6 373.1 1321.9 340.4 1323.0 326.0C1324.1 311.6 1325.1 308.4 1326.0 304.0C1326.9 299.6 1327.6 299.4 1328.4 299.6C1329.2 299.8 1329.9 300.9 1331.0 305.0C1332.1 309.1 1333.7 318.2 1335.0 324.0C1336.3 329.8 1337.7 336.5 1339.0 340.0C1340.3 343.5 1341.7 345.0 1343.0 345.0C1344.3 345.0 1345.8 341.3 1347.0 340.0C1348.2 338.7 1349.0 336.7 1350.0 337.0C1351.0 337.3 1351.9 337.2 1353.0 342.0C1354.1 346.8 1355.4 357.9 1356.4 366.0C1357.4 374.1 1357.9 381.1 1359.0 390.4C1360.1 399.7 1361.7 411.4 1363.0 422.0C1364.3 432.6 1365.9 446.7 1367.0 454.0C1368.1 461.3 1368.8 466.0 1369.6 466.0C1370.4 466.0 1371.1 461.3 1372.0 454.0C1372.9 446.7 1374.0 432.6 1375.0 422.0C1376.0 411.4 1377.0 402.4 1378.0 390.4C1379.0 378.4 1380.0 359.6 1381.0 350.0C1382.0 340.4 1383.1 336.5 1384.0 333.0C1384.9 329.5 1385.7 328.5 1386.6 329.0C1387.5 329.5 1388.4 331.2 1389.6 336.0C1390.8 340.8 1392.4 350.7 1393.6 358.0C1394.8 365.3 1395.9 374.6 1396.6 380.0C1397.3 385.4 1397.4 386.4 1398.0 390.4C1398.6 394.4 1399.2 401.1 1400.0 404.0C1400.8 406.9 1402.0 406.3 1403.0 408.0C1404.0 409.7 1404.8 412.8 1406.0 414.0C1407.2 415.2 1408.7 415.2 1410.0 415.0C1411.3 414.8 1412.7 414.8 1414.0 413.0C1415.3 411.2 1416.7 407.5 1418.0 404.0C1419.3 400.5 1420.5 396.2 1422.0 392.0C1423.5 387.8 1425.3 382.8 1427.0 379.0C1428.7 375.2 1430.3 371.5 1432.0 369.0C1433.7 366.5 1435.5 364.8 1437.0 364.0C1438.5 363.2 1439.5 363.2 1441.0 364.0C1442.5 364.8 1444.3 367.3 1446.0 369.0C1447.7 370.7 1449.3 372.5 1451.0 374.0C1452.7 375.5 1454.5 377.2 1456.0 378.0C1457.5 378.8 1458.7 379.8 1460.0 379.0C1461.3 378.2 1462.5 377.2 1464.0 373.0C1465.5 368.8 1467.5 359.5 1469.0 354.0C1470.5 348.5 1471.8 342.5 1473.0 340.0C1474.2 337.5 1475.0 337.5 1476.0 339.0C1477.0 340.5 1478.0 343.2 1479.0 349.0C1480.0 354.8 1481.0 364.5 1482.0 374.0C1483.0 383.5 1483.8 396.7 1485.0 406.0C1486.2 415.3 1487.7 425.3 1489.0 430.0C1490.3 434.7 1491.7 435.3 1493.0 434.0C1494.3 432.7 1495.7 426.3 1497.0 422.0C1498.3 417.7 1499.7 410.2 1501.0 408.0C1502.3 405.8 1503.7 408.0 1505.0 409.0C1506.3 410.0 1507.7 412.3 1509.0 414.0C1510.3 415.7 1511.8 419.0 1513.0 419.0C1514.2 419.0 1514.8 417.8 1516.0 414.0C1517.2 410.2 1518.7 401.7 1520.0 396.0C1521.3 390.3 1522.7 384.0 1524.0 380.0C1525.3 376.0 1526.8 373.7 1528.0 372.0C1529.2 370.3 1529.8 369.7 1531.0 370.0C1532.2 370.3 1533.5 372.0 1535.0 374.0C1536.5 376.0 1538.3 380.2 1540.0 382.0C1541.7 383.8 1543.2 384.3 1545.0 385.0C1546.8 385.7 1549.2 386.5 1551.0 386.0C1552.8 385.5 1554.3 383.2 1556.0 382.0C1557.7 380.8 1559.3 379.7 1561.0 379.0C1562.7 378.3 1564.3 377.8 1566.0 378.0C1567.7 378.2 1569.3 378.3 1571.0 380.0C1572.7 381.7 1574.3 385.7 1576.0 388.0C1577.7 390.3 1579.3 392.8 1581.0 394.0C1582.7 395.2 1584.5 395.7 1586.0 395.0C1587.5 394.3 1588.5 393.5 1590.0 390.0C1591.5 386.5 1593.3 379.3 1595.0 374.0C1596.7 368.7 1598.3 362.0 1600.0 358.0C1601.7 354.0 1603.5 350.7 1605.0 350.0C1606.5 349.3 1607.7 352.7 1609.0 354.0C1610.3 355.3 1611.7 357.3 1613.0 358.0C1614.3 358.7 1615.7 358.7 1617.0 358.0C1618.3 357.3 1619.8 355.7 1621.0 354.0C1622.2 352.3 1623.0 347.3 1624.0 348.0C1625.0 348.7 1626.0 350.3 1627.0 358.0C1628.0 365.7 1629.0 381.3 1630.0 394.0C1631.0 406.7 1632.0 420.7 1633.0 434.0C1634.0 447.3 1635.0 462.7 1636.0 474.0C1637.0 485.3 1638.2 496.4 1639.0 502.0C1639.8 507.6 1639.9 508.3 1640.6 507.6C1641.3 506.9 1642.1 505.9 1643.0 498.0C1643.9 490.1 1645.0 474.7 1646.0 460.0C1647.0 445.3 1648.0 425.7 1649.0 410.0C1650.0 394.3 1651.0 378.0 1652.0 366.0C1653.0 354.0 1653.8 344.3 1655.0 338.0C1656.2 331.7 1657.8 330.0 1659.0 328.0C1660.2 326.0 1660.8 325.0 1662.0 326.0C1663.2 327.0 1664.5 331.0 1666.0 334.0C1667.5 337.0 1669.5 341.3 1671.0 344.0C1672.5 346.7 1674.0 347.3 1675.0 350.0C1676.0 352.7 1676.4 353.7 1677.0 360.0C1677.6 366.3 1678.0 383.1 1678.6 388.0C1679.2 392.9 1678.8 389.3 1680.4 389.6C1682.0 389.9 1685.6 389.6 1688.0 389.6C1690.4 389.6 1693.8 389.6 1695.0 389.6"/>
<path stroke="#127012" d="M170.6 390.6C171.7 389.0 174.9 385.0 177.1 381.1C179.4 377.3 181.7 371.0 184.0 367.4C186.3 363.9 188.6 361.7 190.9 359.7C193.1 357.7 195.4 356.6 197.7 355.4C200.0 354.3 202.7 353.4 204.6 352.9C206.4 352.3 207.4 351.6 208.9 352.0C210.3 352.4 211.6 352.6 213.1 355.4C214.7 358.3 216.6 362.6 218.3 369.1C220.0 375.7 221.7 387.1 223.4 394.9C225.1 402.6 226.9 410.7 228.6 415.4C230.3 420.1 232.0 422.9 233.7 423.1C235.4 423.4 237.1 421.0 238.9 417.1C240.6 413.3 242.3 405.1 244.0 400.0C245.7 394.9 247.6 389.1 249.1 386.3C250.7 383.4 251.9 382.7 253.4 382.9C255.0 383.0 256.9 383.7 258.6 387.1C260.3 390.6 261.9 397.3 263.7 403.4C265.6 409.6 267.8 418.9 269.7 424.0C271.6 429.1 273.3 434.0 275.2 434.3C277.1 434.6 278.9 431.4 280.9 425.7C282.8 420.0 284.9 408.0 286.9 400.0C288.9 392.0 291.0 382.6 292.9 377.7C294.7 372.9 296.4 371.1 298.0 370.9C299.6 370.6 300.7 372.6 302.3 376.0C303.9 379.4 305.7 386.9 307.4 391.4C309.1 396.0 310.9 400.0 312.6 403.4C314.3 406.9 316.0 410.9 317.7 412.0C319.4 413.1 321.1 410.6 322.9 410.3C324.6 410.0 326.3 409.4 328.0 410.3C329.7 411.1 331.4 414.6 333.1 415.4C334.9 416.3 336.6 415.9 338.3 415.4C340.0 415.0 341.9 413.4 343.4 412.9C345.0 412.3 346.3 411.0 347.7 412.0C349.1 413.0 350.4 415.7 352.0 418.9C353.6 422.0 355.7 428.6 357.1 430.9C358.6 433.1 359.6 434.3 360.9 432.6C362.2 430.9 363.5 427.4 364.9 420.6C366.2 413.7 367.6 401.4 369.1 391.4C370.7 381.4 372.7 368.6 374.3 360.6C375.9 352.6 377.2 347.0 378.6 343.4C379.9 339.9 381.2 338.6 382.5 339.1C383.8 339.7 384.8 343.0 386.3 346.9C387.8 350.7 389.7 357.4 391.4 362.3C393.1 367.1 394.9 372.6 396.6 376.0C398.3 379.4 399.7 381.1 401.7 382.9C403.7 384.6 406.3 385.1 408.6 386.3C410.9 387.4 413.1 388.1 415.4 389.7C417.7 391.3 420.4 394.4 422.3 395.7C424.1 397.0 424.9 397.7 426.6 397.4C428.3 397.1 430.7 395.7 432.6 394.0C434.4 392.3 436.5 389.1 437.7 387.1C439.0 385.1 438.3 383.2 440.0 382.0C441.7 380.8 445.3 379.8 448.0 380.0C450.7 380.2 453.3 382.0 456.0 383.0C458.7 384.0 461.3 385.3 464.0 386.0C466.7 386.7 469.3 386.6 472.0 387.0C474.7 387.4 477.8 388.2 480.0 388.4C482.2 388.6 483.4 389.1 485.0 388.0C486.6 386.9 488.1 386.0 489.6 382.0C491.1 378.0 492.4 371.7 494.0 364.0C495.6 356.3 497.3 344.7 499.0 336.0C500.7 327.3 502.6 316.5 504.0 312.0C505.4 307.5 506.4 308.3 507.6 309.0C508.8 309.7 509.8 309.2 511.0 316.0C512.2 322.8 513.8 337.6 515.0 350.0C516.2 362.4 517.0 377.1 518.0 390.4C519.0 403.7 519.8 416.7 521.0 430.0C522.2 443.3 523.7 459.0 525.0 470.0C526.3 481.0 527.9 490.8 529.0 496.0C530.1 501.2 530.8 501.0 531.6 501.0C532.4 501.0 532.9 501.2 534.0 496.0C535.1 490.8 536.7 479.3 538.0 470.0C539.3 460.7 540.7 450.0 542.0 440.0C543.3 430.0 544.7 418.3 546.0 410.0C547.3 401.7 548.4 396.1 549.6 390.4C550.8 384.7 551.6 383.4 553.0 376.0C554.4 368.6 556.2 355.7 558.0 346.0C559.8 336.3 562.0 325.0 564.0 318.0C566.0 311.0 568.3 306.7 570.0 304.0C571.7 301.3 572.9 301.3 574.4 302.0C575.9 302.7 577.4 304.3 579.0 308.0C580.6 311.7 582.3 318.7 584.0 324.0C585.7 329.3 587.5 335.7 589.0 340.0C590.5 344.3 591.7 347.7 593.0 350.0C594.3 352.3 595.5 354.1 597.0 353.6C598.5 353.1 600.4 349.1 602.0 347.0C603.6 344.9 605.1 341.2 606.4 341.0C607.7 340.8 608.9 341.8 610.0 346.0C611.1 350.2 612.1 358.6 613.0 366.0C613.9 373.4 614.8 378.1 615.6 390.4C616.4 402.7 617.1 423.4 618.0 440.0C618.9 456.6 619.8 473.3 621.0 490.0C622.2 506.7 623.7 527.7 625.0 540.0C626.3 552.3 627.9 559.5 629.0 564.0C630.1 568.5 630.6 569.3 631.6 567.0C632.6 564.7 633.8 559.5 635.0 550.0C636.2 540.5 637.7 523.3 639.0 510.0C640.3 496.7 641.5 482.0 643.0 470.0C644.5 458.0 646.3 445.7 648.0 438.0C649.7 430.3 651.3 428.3 653.0 424.0C654.7 419.7 656.5 416.3 658.0 412.0C659.5 407.7 660.3 405.3 662.0 398.0C663.7 390.7 666.0 376.3 668.0 368.0C670.0 359.7 672.0 352.7 674.0 348.0C676.0 343.3 678.2 340.8 680.0 340.0C681.8 339.2 683.2 340.0 685.0 343.0C686.8 346.0 689.0 353.5 691.0 358.0C693.0 362.5 694.8 366.8 697.0 370.0C699.2 373.2 701.5 375.5 704.0 377.0C706.5 378.5 709.3 379.0 712.0 379.0C714.7 379.0 717.7 378.8 720.0 377.0C722.3 375.2 724.0 372.5 726.0 368.0C728.0 363.5 730.0 357.0 732.0 350.0C734.0 343.0 736.1 331.7 738.0 326.0C739.9 320.3 741.7 315.9 743.4 315.6C745.1 315.3 746.6 316.6 748.0 324.0C749.4 331.4 750.6 348.9 751.6 360.0C752.6 371.1 753.1 378.7 754.0 390.4C754.9 402.1 756.0 417.7 757.0 430.0C758.0 442.3 758.8 453.0 760.0 464.0C761.2 475.0 762.8 488.5 764.0 496.0C765.2 503.5 765.8 511.7 767.0 509.0C768.2 506.3 769.5 491.5 771.0 480.0C772.5 468.5 774.3 451.7 776.0 440.0C777.7 428.3 779.3 418.7 781.0 410.0C782.7 401.3 784.5 393.0 786.0 388.0C787.5 383.0 788.7 381.3 790.0 380.0C791.3 378.7 792.7 378.0 794.0 380.0C795.3 382.0 796.5 387.3 798.0 392.0C799.5 396.7 801.5 404.7 803.0 408.0C804.5 411.3 805.7 412.7 807.0 412.0C808.3 411.3 809.5 409.3 811.0 404.0C812.5 398.7 814.3 387.3 816.0 380.0C817.7 372.7 819.3 365.0 821.0 360.0C822.7 355.0 824.3 353.3 826.0 350.0C827.7 346.7 829.3 345.0 831.0 340.0C832.7 335.0 834.3 327.0 836.0 320.0C837.7 313.0 839.4 303.7 841.0 298.0C842.6 292.3 844.3 287.0 845.6 286.0C846.9 285.0 847.8 286.3 849.0 292.0C850.2 297.7 851.7 307.0 853.0 320.0C854.3 333.0 855.7 353.3 857.0 370.0C858.3 386.7 859.7 407.0 861.0 420.0C862.3 433.0 863.8 442.7 865.0 448.0C866.2 453.3 866.8 453.3 868.0 452.0C869.2 450.7 870.7 445.3 872.0 440.0C873.3 434.7 874.7 425.0 876.0 420.0C877.3 415.0 878.5 411.2 880.0 410.0C881.5 408.8 883.3 411.8 885.0 413.0C886.7 414.2 888.5 416.8 890.0 417.0C891.5 417.2 892.5 416.8 894.0 414.0C895.5 411.2 897.3 404.7 899.0 400.0C900.7 395.3 902.3 390.0 904.0 386.0C905.7 382.0 907.4 378.2 909.0 376.0C910.6 373.8 912.1 372.8 913.6 373.0C915.1 373.2 916.4 374.5 918.0 377.0C919.6 379.5 921.3 384.5 923.0 388.0C924.7 391.5 926.3 396.0 928.0 398.0C929.7 400.0 931.3 400.5 933.0 400.0C934.7 399.5 936.2 397.2 938.0 395.0C939.8 392.8 942.0 389.5 944.0 387.0C946.0 384.5 948.3 381.5 950.0 380.0C951.7 378.5 952.5 377.7 954.0 378.0C955.5 378.3 957.3 379.7 959.0 382.0C960.7 384.3 962.3 389.0 964.0 392.0C965.7 395.0 967.3 398.5 969.0 400.0C970.7 401.5 972.3 402.3 974.0 401.0C975.7 399.7 977.3 395.0 979.0 392.0C980.7 389.0 982.3 385.0 984.0 383.0C985.7 381.0 987.3 380.8 989.0 380.0C990.7 379.2 992.5 378.5 994.0 378.0C995.5 377.5 996.7 375.7 998.0 377.0C999.3 378.3 1000.5 380.5 1002.0 386.0C1003.5 391.5 1005.3 401.3 1007.0 410.0C1008.7 418.7 1010.5 430.7 1012.0 438.0C1013.5 445.3 1014.8 450.8 1016.0 454.0C1017.2 457.2 1018.0 458.3 1019.0 457.0C1020.0 455.7 1020.8 455.5 1022.0 446.0C1023.2 436.5 1024.7 415.0 1026.0 400.0C1027.3 385.0 1028.7 366.8 1030.0 356.0C1031.3 345.2 1032.7 338.0 1034.0 335.0C1035.3 332.0 1036.7 334.8 1038.0 338.0C1039.3 341.2 1040.5 348.7 1042.0 354.0C1043.5 359.3 1045.3 365.7 1047.0 370.0C1048.7 374.3 1050.3 377.5 1052.0 380.0C1053.7 382.5 1055.5 384.3 1057.0 385.0C1058.5 385.7 1059.5 386.2 1061.0 384.0C1062.5 381.8 1064.3 376.7 1066.0 372.0C1067.7 367.3 1069.5 360.7 1071.0 356.0C1072.5 351.3 1073.7 346.7 1075.0 344.0C1076.3 341.3 1077.7 339.3 1079.0 340.0C1080.3 340.7 1081.5 341.3 1083.0 348.0C1084.5 354.7 1086.5 366.3 1088.0 380.0C1089.5 393.7 1090.7 415.0 1092.0 430.0C1093.3 445.0 1094.9 461.7 1096.0 470.0C1097.1 478.3 1097.6 483.3 1098.6 480.0C1099.6 476.7 1100.8 461.7 1102.0 450.0C1103.2 438.3 1104.7 423.3 1106.0 410.0C1107.3 396.7 1108.7 380.7 1110.0 370.0C1111.3 359.3 1112.7 351.0 1114.0 346.0C1115.3 341.0 1116.7 339.7 1118.0 340.0C1119.3 340.3 1120.7 343.0 1122.0 348.0C1123.3 353.0 1124.7 362.9 1126.0 370.0C1127.3 377.1 1128.5 383.7 1130.0 390.4C1131.5 397.1 1133.3 401.1 1135.0 410.0C1136.7 418.9 1138.3 434.8 1140.0 444.0C1141.7 453.2 1143.7 461.2 1145.0 465.0C1146.3 468.8 1146.6 468.5 1147.6 467.0C1148.6 465.5 1149.8 462.2 1151.0 456.0C1152.2 449.8 1153.7 438.3 1155.0 430.0C1156.3 421.7 1157.8 412.6 1159.0 406.0C1160.2 399.4 1161.6 395.7 1162.4 390.4C1163.2 385.1 1162.9 380.1 1164.0 374.0C1165.1 367.9 1167.7 358.0 1169.0 354.0C1170.3 350.0 1170.8 349.8 1172.0 350.0C1173.2 350.2 1174.5 352.7 1176.0 355.0C1177.5 357.3 1179.3 361.2 1181.0 364.0C1182.7 366.8 1184.3 369.8 1186.0 372.0C1187.7 374.2 1189.3 376.3 1191.0 377.0C1192.7 377.7 1194.3 377.2 1196.0 376.0C1197.7 374.8 1199.3 371.7 1201.0 370.0C1202.7 368.3 1204.3 367.0 1206.0 366.0C1207.7 365.0 1209.3 364.5 1211.0 364.0C1212.7 363.5 1214.3 362.5 1216.0 363.0C1217.7 363.5 1219.3 366.0 1221.0 367.0C1222.7 368.0 1224.5 368.8 1226.0 369.0C1227.5 369.2 1228.8 369.5 1230.0 368.0C1231.2 366.5 1232.0 364.7 1233.0 360.0C1234.0 355.3 1234.8 347.3 1236.0 340.0C1237.2 332.7 1238.7 322.7 1240.0 316.0C1241.3 309.3 1242.8 302.7 1244.0 300.0C1245.2 297.3 1246.1 295.7 1247.0 300.0C1247.9 304.3 1248.8 314.3 1249.6 326.0C1250.4 337.7 1251.1 359.3 1251.6 370.0C1252.1 380.7 1251.9 380.4 1252.4 390.4C1252.9 400.4 1253.5 415.1 1254.4 430.0C1255.3 444.9 1256.6 466.3 1257.6 480.0C1258.6 493.7 1259.5 504.5 1260.4 512.0C1261.3 519.5 1262.1 526.0 1263.0 525.0C1263.9 524.0 1264.7 516.8 1265.6 506.0C1266.5 495.2 1267.6 475.3 1268.4 460.0C1269.2 444.7 1270.1 425.6 1270.6 414.0C1271.1 402.4 1271.2 401.1 1271.6 390.4C1272.0 379.7 1272.2 370.1 1272.8 350.0C1273.4 329.9 1274.1 298.3 1275.0 270.0C1275.9 241.7 1277.2 201.3 1278.0 180.0C1278.8 158.7 1279.4 149.2 1280.0 142.0C1280.6 134.8 1281.0 136.7 1281.6 137.0C1282.2 137.3 1282.9 135.2 1283.6 144.0C1284.3 152.8 1285.1 167.3 1286.0 190.0C1286.9 212.7 1288.1 250.0 1289.0 280.0C1289.9 310.0 1291.1 351.6 1291.6 370.0C1292.1 388.4 1291.9 375.4 1292.2 390.4C1292.5 405.4 1292.9 435.1 1293.4 460.0C1293.9 484.9 1294.6 511.7 1295.4 540.0C1296.2 568.3 1297.1 601.7 1298.0 630.0C1298.9 658.3 1299.8 692.7 1300.6 710.0C1301.4 727.3 1302.0 734.0 1302.8 734.0C1303.6 734.0 1304.3 727.3 1305.2 710.0C1306.1 692.7 1307.1 656.7 1308.0 630.0C1308.9 603.3 1309.8 575.0 1310.8 550.0C1311.8 525.0 1313.0 500.0 1314.0 480.0C1315.0 460.0 1316.1 444.9 1317.0 430.0C1317.9 415.1 1318.6 405.4 1319.6 390.4C1320.6 375.4 1321.9 352.4 1323.0 340.0C1324.1 327.6 1325.1 320.8 1326.0 316.0C1326.9 311.2 1327.6 311.0 1328.4 311.0C1329.2 311.0 1329.9 312.2 1331.0 316.0C1332.1 319.8 1333.7 328.0 1335.0 334.0C1336.3 340.0 1337.7 348.0 1339.0 352.0C1340.3 356.0 1341.7 357.7 1343.0 358.0C1344.3 358.3 1345.7 355.3 1347.0 354.0C1348.3 352.7 1349.8 349.3 1351.0 350.0C1352.2 350.7 1353.0 353.0 1354.0 358.0C1355.0 363.0 1356.2 374.6 1357.0 380.0C1357.8 385.4 1357.6 383.7 1358.6 390.4C1359.6 397.1 1361.6 410.1 1363.0 420.0C1364.4 429.9 1365.9 443.7 1367.0 450.0C1368.1 456.3 1368.8 458.0 1369.6 458.0C1370.4 458.0 1371.1 456.3 1372.0 450.0C1372.9 443.7 1374.1 429.9 1375.0 420.0C1375.9 410.1 1376.8 401.4 1377.6 390.4C1378.4 379.4 1379.1 362.7 1380.0 354.0C1380.9 345.3 1382.0 341.2 1383.0 338.0C1384.0 334.8 1385.0 334.7 1386.0 335.0C1387.0 335.3 1387.8 335.8 1389.0 340.0C1390.2 344.2 1391.8 353.3 1393.0 360.0C1394.2 366.7 1395.3 374.9 1396.0 380.0C1396.7 385.1 1396.8 386.4 1397.4 390.4C1398.0 394.4 1398.7 400.7 1399.6 404.0C1400.5 407.3 1401.9 407.8 1403.0 410.0C1404.1 412.2 1404.8 415.7 1406.0 417.0C1407.2 418.3 1408.7 418.3 1410.0 418.0C1411.3 417.7 1412.7 417.0 1414.0 415.0C1415.3 413.0 1416.7 409.8 1418.0 406.0C1419.3 402.2 1420.5 396.7 1422.0 392.0C1423.5 387.3 1425.3 382.0 1427.0 378.0C1428.7 374.0 1430.3 370.7 1432.0 368.0C1433.7 365.3 1435.5 363.2 1437.0 362.0C1438.5 360.8 1439.5 360.3 1441.0 361.0C1442.5 361.7 1444.3 364.3 1446.0 366.0C1447.7 367.7 1449.3 369.7 1451.0 371.0C1452.7 372.3 1454.5 373.5 1456.0 374.0C1457.5 374.5 1458.7 375.0 1460.0 374.0C1461.3 373.0 1462.5 371.7 1464.0 368.0C1465.5 364.3 1467.5 356.8 1469.0 352.0C1470.5 347.2 1471.8 341.3 1473.0 339.0C1474.2 336.7 1475.0 336.5 1476.0 338.0C1477.0 339.5 1478.0 342.0 1479.0 348.0C1480.0 354.0 1481.0 364.3 1482.0 374.0C1483.0 383.7 1483.8 396.7 1485.0 406.0C1486.2 415.3 1487.7 425.2 1489.0 430.0C1490.3 434.8 1491.7 436.3 1493.0 435.0C1494.3 433.7 1495.7 426.8 1497.0 422.0C1498.3 417.2 1499.7 409.0 1501.0 406.0C1502.3 403.0 1503.7 403.5 1505.0 404.0C1506.3 404.5 1507.7 407.7 1509.0 409.0C1510.3 410.3 1511.8 412.5 1513.0 412.0C1514.2 411.5 1514.8 409.7 1516.0 406.0C1517.2 402.3 1518.7 395.0 1520.0 390.0C1521.3 385.0 1522.7 379.5 1524.0 376.0C1525.3 372.5 1526.8 370.4 1528.0 369.0C1529.2 367.6 1529.8 366.9 1531.0 367.6C1532.2 368.3 1533.5 370.6 1535.0 373.0C1536.5 375.4 1538.3 379.5 1540.0 382.0C1541.7 384.5 1543.2 386.8 1545.0 388.0C1546.8 389.2 1549.2 389.5 1551.0 389.0C1552.8 388.5 1554.3 386.5 1556.0 385.0C1557.7 383.5 1559.3 381.3 1561.0 380.0C1562.7 378.7 1564.3 377.2 1566.0 377.0C1567.7 376.8 1569.3 377.5 1571.0 379.0C1572.7 380.5 1574.3 384.0 1576.0 386.0C1577.7 388.0 1579.3 390.0 1581.0 391.0C1582.7 392.0 1584.5 392.5 1586.0 392.0C1587.5 391.5 1588.5 391.0 1590.0 388.0C1591.5 385.0 1593.3 378.7 1595.0 374.0C1596.7 369.3 1598.3 363.2 1600.0 360.0C1601.7 356.8 1603.5 355.7 1605.0 355.0C1606.5 354.3 1607.7 355.5 1609.0 356.0C1610.3 356.5 1611.7 358.7 1613.0 358.0C1614.3 357.3 1615.7 354.3 1617.0 352.0C1618.3 349.7 1619.8 345.7 1621.0 344.0C1622.2 342.3 1623.0 340.3 1624.0 342.0C1625.0 343.7 1626.0 346.0 1627.0 354.0C1628.0 362.0 1629.0 377.3 1630.0 390.0C1631.0 402.7 1632.0 417.3 1633.0 430.0C1634.0 442.7 1635.0 456.3 1636.0 466.0C1637.0 475.7 1638.1 483.7 1639.0 488.0C1639.9 492.3 1640.8 492.7 1641.6 492.0C1642.4 491.3 1643.1 491.0 1644.0 484.0C1644.9 477.0 1646.0 464.0 1647.0 450.0C1648.0 436.0 1649.0 415.0 1650.0 400.0C1651.0 385.0 1652.0 370.7 1653.0 360.0C1654.0 349.3 1655.0 341.2 1656.0 336.0C1657.0 330.8 1658.0 329.7 1659.0 329.0C1660.0 328.3 1660.8 328.8 1662.0 332.0C1663.2 335.2 1664.7 342.3 1666.0 348.0C1667.3 353.7 1668.7 360.7 1670.0 366.0C1671.3 371.3 1672.7 376.3 1674.0 380.0C1675.3 383.7 1676.7 386.4 1678.0 388.0C1679.3 389.6 1680.3 389.3 1682.0 389.6C1683.7 389.9 1685.8 389.6 1688.0 389.6C1690.2 389.6 1693.8 389.6 1695.0 389.6"/>
<path stroke="#e020e0" d="M170.6 390.6C171.7 388.1 174.9 382.1 177.1 376.0C179.4 369.9 181.7 359.7 184.0 353.7C186.3 347.7 188.7 342.9 190.9 340.0C193.0 337.1 194.9 337.0 196.9 336.6C198.9 336.1 200.7 336.9 202.9 337.4C205.0 338.0 207.7 338.1 209.7 340.0C211.7 341.9 213.3 344.3 214.9 348.6C216.4 352.9 217.7 357.7 219.1 365.7C220.6 373.7 221.9 386.3 223.4 396.6C225.0 406.9 227.0 420.0 228.6 427.4C230.1 434.9 231.4 440.3 232.9 441.1C234.3 442.0 235.6 438.9 237.1 432.6C238.7 426.3 240.6 413.4 242.3 403.4C244.0 393.4 245.9 379.7 247.4 372.6C249.0 365.4 250.3 361.1 251.7 360.6C253.1 360.0 254.6 363.1 256.0 369.1C257.4 375.1 258.9 385.7 260.3 396.6C261.7 407.4 263.0 419.4 264.6 434.3C266.1 449.1 267.9 471.4 269.7 485.7C271.5 500.0 273.5 517.7 275.2 520.0C276.9 522.3 278.3 512.0 280.0 499.4C281.7 486.9 283.4 461.7 285.1 444.6C286.9 427.4 288.6 409.1 290.3 396.6C292.0 384.0 293.7 375.6 295.4 369.1C297.1 362.7 298.9 359.4 300.6 358.0C302.3 356.6 304.1 359.4 305.7 360.6C307.3 361.7 308.3 364.4 310.0 364.9C311.7 365.3 314.1 363.6 316.0 363.1C317.9 362.7 319.6 361.3 321.1 362.3C322.7 363.3 324.0 365.4 325.4 369.1C326.9 372.9 328.1 378.9 329.7 384.6C331.3 390.3 333.1 399.7 334.9 403.4C336.6 407.1 338.3 407.7 340.0 406.9C341.7 406.0 343.7 399.9 345.1 398.3C346.6 396.7 347.4 396.0 348.6 397.4C349.7 398.9 350.6 399.6 352.0 406.9C353.4 414.1 355.3 429.9 357.1 441.1C358.9 452.4 361.2 471.1 362.8 474.6C364.4 478.0 365.2 470.7 366.6 461.7C367.9 452.7 369.6 433.7 370.9 420.6C372.1 407.4 373.1 394.9 374.3 382.9C375.4 370.9 376.6 357.4 377.7 348.6C378.9 339.7 380.1 333.9 381.1 329.7C382.1 325.6 382.7 324.1 383.7 323.7C384.7 323.3 385.9 324.7 387.1 327.1C388.4 329.6 389.9 333.3 391.4 338.3C393.0 343.3 394.9 351.7 396.6 357.1C398.3 362.6 400.0 367.4 401.7 370.9C403.4 374.3 404.9 375.7 406.9 377.7C408.9 379.7 411.4 381.3 413.7 382.9C416.0 384.4 418.6 386.1 420.6 387.1C422.6 388.1 424.0 388.9 425.7 388.9C427.4 388.9 428.9 388.4 430.9 387.1C432.9 385.9 436.2 382.3 437.7 381.1C439.2 380.0 438.3 380.5 440.0 380.0C441.7 379.5 445.3 377.8 448.0 378.0C450.7 378.2 453.3 380.2 456.0 381.0C458.7 381.8 461.3 383.3 464.0 383.0C466.7 382.7 469.3 380.3 472.0 379.0C474.7 377.7 477.8 375.8 480.0 375.0C482.2 374.2 483.5 375.8 485.0 374.0C486.5 372.2 487.5 370.3 489.0 364.0C490.5 357.7 492.3 346.7 494.0 336.0C495.7 325.3 497.5 310.0 499.0 300.0C500.5 290.0 501.9 280.7 503.0 276.0C504.1 271.3 504.6 271.3 505.6 271.6C506.6 271.9 507.8 273.3 509.0 278.0C510.2 282.7 511.8 288.0 513.0 300.0C514.2 312.0 515.3 334.9 516.0 350.0C516.7 365.1 516.5 377.1 517.0 390.4C517.5 403.7 518.2 415.1 519.0 430.0C519.8 444.9 521.0 463.3 522.0 480.0C523.0 496.7 524.0 517.0 525.0 530.0C526.0 543.0 527.1 552.2 528.0 558.0C528.9 563.8 529.6 565.0 530.4 565.0C531.2 565.0 532.1 562.8 533.0 558.0C533.9 553.2 534.8 547.3 536.0 536.0C537.2 524.7 538.7 506.0 540.0 490.0C541.3 474.0 542.7 455.0 544.0 440.0C545.3 425.0 547.2 408.3 548.0 400.0C548.8 391.7 548.3 397.1 549.0 390.4C549.7 383.7 551.0 371.7 552.0 360.0C553.0 348.3 553.7 340.0 555.0 320.0C556.3 300.0 558.3 265.0 560.0 240.0C561.7 215.0 563.5 189.3 565.0 170.0C566.5 150.7 567.8 133.6 569.0 124.0C570.2 114.4 571.2 112.1 572.4 112.4C573.6 112.7 574.7 116.4 576.0 126.0C577.3 135.6 578.5 151.0 580.0 170.0C581.5 189.0 583.5 216.7 585.0 240.0C586.5 263.3 588.0 290.0 589.0 310.0C590.0 330.0 590.6 346.6 591.0 360.0C591.4 373.4 591.3 382.1 591.6 390.4C591.9 398.7 592.3 401.7 593.0 410.0C593.7 418.3 595.0 430.7 596.0 440.0C597.0 449.3 598.1 460.2 599.0 466.0C599.9 471.8 600.7 474.7 601.6 475.0C602.5 475.3 603.5 471.2 604.4 468.0C605.3 464.8 606.0 458.7 607.0 456.0C608.0 453.3 609.4 451.3 610.4 452.0C611.4 452.7 612.1 453.7 613.0 460.0C613.9 466.3 614.8 476.7 616.0 490.0C617.2 503.3 618.7 523.3 620.0 540.0C621.3 556.7 622.7 576.7 624.0 590.0C625.3 603.3 626.6 616.3 627.6 620.0C628.6 623.7 629.1 618.7 630.0 612.0C630.9 605.3 631.8 593.7 633.0 580.0C634.2 566.3 635.7 546.7 637.0 530.0C638.3 513.3 639.7 494.0 641.0 480.0C642.3 466.0 643.8 454.0 645.0 446.0C646.2 438.0 646.8 434.2 648.0 432.0C649.2 429.8 650.7 432.7 652.0 433.0C653.3 433.3 654.8 434.8 656.0 434.0C657.2 433.2 658.2 432.0 659.0 428.0C659.8 424.0 660.2 416.3 661.0 410.0C661.8 403.7 662.5 402.1 664.0 390.4C665.5 378.7 668.2 352.7 670.0 340.0C671.8 327.3 673.6 319.3 675.0 314.0C676.4 308.7 677.2 307.7 678.4 308.0C679.6 308.3 680.4 309.0 682.0 316.0C683.6 323.0 686.5 337.6 688.0 350.0C689.5 362.4 689.8 380.4 691.0 390.4C692.2 400.4 693.5 403.4 695.0 410.0C696.5 416.6 698.3 423.7 700.0 430.0C701.7 436.3 703.3 443.0 705.0 448.0C706.7 453.0 708.5 457.1 710.0 460.0C711.5 462.9 712.7 465.3 714.0 465.6C715.3 465.9 716.5 464.6 718.0 462.0C719.5 459.4 721.3 454.7 723.0 450.0C724.7 445.3 726.2 439.7 728.0 434.0C729.8 428.3 732.0 421.7 734.0 416.0C736.0 410.3 738.3 403.8 740.0 400.0C741.7 396.2 742.7 392.7 744.0 393.0C745.3 393.3 746.8 397.5 748.0 402.0C749.2 406.5 750.0 412.0 751.0 420.0C752.0 428.0 753.0 438.3 754.0 450.0C755.0 461.7 756.0 476.7 757.0 490.0C758.0 503.3 759.0 519.0 760.0 530.0C761.0 541.0 762.2 550.3 763.0 556.0C763.8 561.7 764.0 571.2 765.0 564.0C766.0 556.8 767.8 531.2 769.2 513.0C770.6 494.8 772.1 474.5 773.2 455.0C774.3 435.5 775.0 418.8 776.0 396.0C777.0 373.2 778.0 337.5 779.0 318.0C780.0 298.5 781.1 288.2 782.0 279.0C782.9 269.8 783.7 266.4 784.4 263.0C785.1 259.6 785.3 257.9 786.2 258.4C787.1 258.9 788.9 261.4 790.0 266.0C791.1 270.6 792.0 277.0 793.0 286.0C794.0 295.0 794.8 307.7 796.0 320.0C797.2 332.3 798.7 348.0 800.0 360.0C801.3 372.0 802.7 384.7 804.0 392.0C805.3 399.3 806.4 403.3 807.6 404.0C808.8 404.7 809.8 401.3 811.0 396.0C812.2 390.7 813.7 380.7 815.0 372.0C816.3 363.3 817.7 352.0 819.0 344.0C820.3 336.0 821.3 330.0 823.0 324.0C824.7 318.0 827.2 314.7 829.0 308.0C830.8 301.3 832.3 293.7 834.0 284.0C835.7 274.3 837.5 259.3 839.0 250.0C840.5 240.7 841.8 232.4 843.0 228.0C844.2 223.6 845.0 223.6 846.0 223.6C847.0 223.6 848.0 224.3 849.0 228.0C850.0 231.7 850.8 235.3 852.0 246.0C853.2 256.7 854.7 276.3 856.0 292.0C857.3 307.7 858.7 326.3 860.0 340.0C861.3 353.7 862.7 365.0 864.0 374.0C865.3 383.0 866.7 390.0 868.0 394.0C869.3 398.0 870.7 396.7 872.0 398.0C873.3 399.3 874.7 398.3 876.0 402.0C877.3 405.7 878.5 415.0 880.0 420.0C881.5 425.0 883.3 429.7 885.0 432.0C886.7 434.3 888.5 435.7 890.0 434.0C891.5 432.3 892.7 426.7 894.0 422.0C895.3 417.3 896.7 410.7 898.0 406.0C899.3 401.3 900.7 396.3 902.0 394.0C903.3 391.7 904.7 390.3 906.0 392.0C907.3 393.7 908.5 397.7 910.0 404.0C911.5 410.3 913.3 420.7 915.0 430.0C916.7 439.3 918.5 450.7 920.0 460.0C921.5 469.3 922.5 477.5 924.0 486.0C925.5 494.5 927.5 507.3 929.0 511.0C930.5 514.7 931.7 511.5 933.0 508.0C934.3 504.5 935.7 497.3 937.0 490.0C938.3 482.7 939.7 471.7 941.0 464.0C942.3 456.3 943.5 449.7 945.0 444.0C946.5 438.3 948.3 432.7 950.0 430.0C951.7 427.3 953.3 429.0 955.0 428.0C956.7 427.0 958.5 426.7 960.0 424.0C961.5 421.3 962.7 417.7 964.0 412.0C965.3 406.3 966.5 398.0 968.0 390.0C969.5 382.0 971.3 372.0 973.0 364.0C974.7 356.0 976.3 347.7 978.0 342.0C979.7 336.3 981.7 332.3 983.0 330.0C984.3 327.7 984.8 327.7 986.0 328.0C987.2 328.3 988.5 328.7 990.0 332.0C991.5 335.3 993.3 342.0 995.0 348.0C996.7 354.0 998.3 361.0 1000.0 368.0C1001.7 375.0 1003.5 383.7 1005.0 390.0C1006.5 396.3 1007.7 402.2 1009.0 406.0C1010.3 409.8 1011.7 413.3 1013.0 413.0C1014.3 412.7 1015.7 410.2 1017.0 404.0C1018.3 397.8 1019.7 385.0 1021.0 376.0C1022.3 367.0 1023.7 357.3 1025.0 350.0C1026.3 342.7 1027.7 335.7 1029.0 332.0C1030.3 328.3 1031.7 327.3 1033.0 327.6C1034.3 327.9 1035.7 330.3 1037.0 334.0C1038.3 337.7 1039.5 343.7 1041.0 350.0C1042.5 356.3 1044.3 365.3 1046.0 372.0C1047.7 378.7 1049.3 385.2 1051.0 390.0C1052.7 394.8 1054.3 398.7 1056.0 401.0C1057.7 403.3 1059.3 404.8 1061.0 404.0C1062.7 403.2 1064.3 401.3 1066.0 396.0C1067.7 390.7 1069.3 379.0 1071.0 372.0C1072.7 365.0 1074.5 357.8 1076.0 354.0C1077.5 350.2 1078.7 348.0 1080.0 349.0C1081.3 350.0 1082.5 353.5 1084.0 360.0C1085.5 366.5 1087.3 379.3 1089.0 388.0C1090.7 396.7 1092.5 406.8 1094.0 412.0C1095.5 417.2 1096.7 419.3 1098.0 419.0C1099.3 418.7 1100.7 414.8 1102.0 410.0C1103.3 405.2 1104.7 396.0 1106.0 390.0C1107.3 384.0 1108.5 377.2 1110.0 374.0C1111.5 370.8 1113.5 370.3 1115.0 371.0C1116.5 371.7 1118.0 374.8 1119.0 378.0C1120.0 381.2 1120.0 385.1 1121.0 390.4C1122.0 395.7 1123.5 402.7 1125.0 410.0C1126.5 417.3 1128.2 427.0 1130.0 434.0C1131.8 441.0 1133.8 447.3 1136.0 452.0C1138.2 456.7 1141.0 461.3 1143.0 462.0C1145.0 462.7 1146.3 460.3 1148.0 456.0C1149.7 451.7 1151.3 443.7 1153.0 436.0C1154.7 428.3 1156.4 417.6 1158.0 410.0C1159.6 402.4 1161.4 397.1 1162.4 390.4C1163.4 383.7 1162.9 377.7 1164.0 370.0C1165.1 362.3 1167.5 350.2 1169.0 344.0C1170.5 337.8 1171.7 335.2 1173.0 333.0C1174.3 330.8 1175.7 330.5 1177.0 331.0C1178.3 331.5 1179.7 333.2 1181.0 336.0C1182.3 338.8 1183.5 343.3 1185.0 348.0C1186.5 352.7 1188.3 360.3 1190.0 364.0C1191.7 367.7 1193.5 369.7 1195.0 370.0C1196.5 370.3 1197.5 369.0 1199.0 366.0C1200.5 363.0 1202.3 356.7 1204.0 352.0C1205.7 347.3 1207.3 342.3 1209.0 338.0C1210.7 333.7 1212.3 328.8 1214.0 326.0C1215.7 323.2 1217.5 322.0 1219.0 321.0C1220.5 320.0 1221.7 319.2 1223.0 320.0C1224.3 320.8 1225.7 323.0 1227.0 326.0C1228.3 329.0 1229.7 334.0 1231.0 338.0C1232.3 342.0 1233.7 347.0 1235.0 350.0C1236.3 353.0 1237.7 355.2 1239.0 356.0C1240.3 356.8 1241.7 355.3 1243.0 355.0C1244.3 354.7 1245.9 351.5 1247.0 354.0C1248.1 356.5 1248.7 363.9 1249.4 370.0C1250.1 376.1 1250.2 382.1 1251.0 390.4C1251.8 398.7 1253.0 408.4 1254.0 420.0C1255.0 431.6 1256.0 448.0 1257.0 460.0C1258.0 472.0 1259.0 484.5 1260.0 492.0C1261.0 499.5 1262.0 505.7 1263.0 505.0C1264.0 504.3 1265.0 497.2 1266.0 488.0C1267.0 478.8 1268.2 463.0 1269.0 450.0C1269.8 437.0 1270.5 419.9 1271.0 410.0C1271.5 400.1 1271.5 407.1 1272.0 390.4C1272.5 373.7 1273.2 335.1 1274.0 310.0C1274.8 284.9 1276.1 259.3 1277.0 240.0C1277.9 220.7 1278.8 202.8 1279.6 194.0C1280.4 185.2 1280.9 187.0 1281.6 187.0C1282.3 187.0 1283.1 185.2 1284.0 194.0C1284.9 202.8 1286.0 220.7 1287.0 240.0C1288.0 259.3 1289.2 284.9 1290.0 310.0C1290.8 335.1 1291.4 370.4 1292.0 390.4C1292.6 410.4 1292.9 411.7 1293.6 430.0C1294.3 448.3 1295.1 478.3 1296.0 500.0C1296.9 521.7 1298.1 544.7 1299.0 560.0C1299.9 575.3 1300.8 585.7 1301.6 592.0C1302.4 598.3 1302.9 598.7 1303.6 598.0C1304.3 597.3 1305.1 596.0 1306.0 588.0C1306.9 580.0 1308.0 564.7 1309.0 550.0C1310.0 535.3 1311.0 516.7 1312.0 500.0C1313.0 483.3 1314.0 465.0 1315.0 450.0C1316.0 435.0 1317.2 419.9 1318.0 410.0C1318.8 400.1 1318.9 400.4 1319.6 390.4C1320.3 380.4 1321.1 360.4 1322.0 350.0C1322.9 339.6 1324.0 332.4 1325.0 328.0C1326.0 323.6 1327.0 323.3 1328.0 323.6C1329.0 323.9 1330.0 325.6 1331.0 330.0C1332.0 334.4 1333.2 342.7 1334.0 350.0C1334.8 357.3 1335.2 367.3 1335.6 374.0C1336.0 380.7 1336.0 382.7 1336.4 390.4C1336.8 398.1 1337.1 409.1 1338.0 420.0C1338.9 430.9 1340.7 446.7 1342.0 456.0C1343.3 465.3 1344.9 471.5 1346.0 476.0C1347.1 480.5 1347.6 483.0 1348.4 483.0C1349.2 483.0 1350.1 481.5 1351.0 476.0C1351.9 470.5 1352.8 460.0 1354.0 450.0C1355.2 440.0 1356.7 425.9 1358.0 416.0C1359.3 406.1 1360.3 396.4 1361.6 390.4C1362.9 384.4 1364.6 383.4 1366.0 380.0C1367.4 376.6 1368.3 374.3 1370.0 370.0C1371.7 365.7 1374.2 357.3 1376.0 354.0C1377.8 350.7 1379.5 349.0 1381.0 350.0C1382.5 351.0 1383.8 353.3 1385.0 360.0C1386.2 366.7 1387.2 382.1 1388.4 390.4C1389.6 398.7 1390.6 404.1 1392.0 410.0C1393.4 415.9 1395.7 422.7 1397.0 426.0C1398.3 429.3 1398.7 429.2 1400.0 430.0C1401.3 430.8 1403.3 430.0 1405.0 431.0C1406.7 432.0 1408.3 434.7 1410.0 436.0C1411.7 437.3 1413.5 439.3 1415.0 439.0C1416.5 438.7 1417.7 437.5 1419.0 434.0C1420.3 430.5 1421.7 424.3 1423.0 418.0C1424.3 411.7 1425.7 403.0 1427.0 396.0C1428.3 389.0 1429.7 381.8 1431.0 376.0C1432.3 370.2 1433.7 364.8 1435.0 361.0C1436.3 357.2 1437.7 354.7 1439.0 353.0C1440.3 351.3 1441.5 350.8 1443.0 351.0C1444.5 351.2 1446.3 352.8 1448.0 354.0C1449.7 355.2 1451.3 356.8 1453.0 358.0C1454.7 359.2 1456.3 361.3 1458.0 361.0C1459.7 360.7 1461.3 359.2 1463.0 356.0C1464.7 352.8 1466.5 346.0 1468.0 342.0C1469.5 338.0 1470.8 333.8 1472.0 332.0C1473.2 330.2 1473.8 330.0 1475.0 331.0C1476.2 332.0 1477.7 333.5 1479.0 338.0C1480.3 342.5 1481.7 350.7 1483.0 358.0C1484.3 365.3 1485.7 374.7 1487.0 382.0C1488.3 389.3 1489.7 397.5 1491.0 402.0C1492.3 406.5 1493.7 408.3 1495.0 409.0C1496.3 409.7 1497.7 407.8 1499.0 406.0C1500.3 404.2 1501.5 400.7 1503.0 398.0C1504.5 395.3 1506.3 392.0 1508.0 390.0C1509.7 388.0 1511.3 388.0 1513.0 386.0C1514.7 384.0 1516.3 381.3 1518.0 378.0C1519.7 374.7 1521.3 369.3 1523.0 366.0C1524.7 362.7 1526.7 359.8 1528.0 358.4C1529.3 357.0 1529.8 356.7 1531.0 357.6C1532.2 358.5 1533.5 360.3 1535.0 364.0C1536.5 367.7 1538.3 374.3 1540.0 380.0C1541.7 385.7 1543.3 392.7 1545.0 398.0C1546.7 403.3 1548.7 409.2 1550.0 412.0C1551.3 414.8 1552.0 415.3 1553.0 415.0C1554.0 414.7 1554.8 413.5 1556.0 410.0C1557.2 406.5 1558.7 400.0 1560.0 394.0C1561.3 388.0 1562.7 378.3 1564.0 374.0C1565.3 369.7 1566.8 368.0 1568.0 368.0C1569.2 368.0 1569.8 370.3 1571.0 374.0C1572.2 377.7 1573.5 385.0 1575.0 390.0C1576.5 395.0 1578.3 400.7 1580.0 404.0C1581.7 407.3 1583.5 409.7 1585.0 410.0C1586.5 410.3 1587.7 409.0 1589.0 406.0C1590.3 403.0 1591.7 397.3 1593.0 392.0C1594.3 386.7 1595.7 380.3 1597.0 374.0C1598.3 367.7 1599.7 361.0 1601.0 354.0C1602.3 347.0 1603.7 338.2 1605.0 332.0C1606.3 325.8 1607.7 320.2 1609.0 317.0C1610.3 313.8 1611.7 312.8 1613.0 313.0C1614.3 313.2 1615.7 314.5 1617.0 318.0C1618.3 321.5 1619.8 327.3 1621.0 334.0C1622.2 340.7 1623.0 349.3 1624.0 358.0C1625.0 366.7 1626.0 377.3 1627.0 386.0C1628.0 394.7 1628.8 402.7 1630.0 410.0C1631.2 417.3 1632.7 425.2 1634.0 430.0C1635.3 434.8 1636.7 437.3 1638.0 439.0C1639.3 440.7 1640.5 440.8 1642.0 440.0C1643.5 439.2 1645.5 437.3 1647.0 434.0C1648.5 430.7 1649.7 425.7 1651.0 420.0C1652.3 414.3 1653.7 407.0 1655.0 400.0C1656.3 393.0 1657.8 383.3 1659.0 378.0C1660.2 372.7 1661.1 369.8 1662.0 368.0C1662.9 366.2 1663.6 366.0 1664.4 367.0C1665.2 368.0 1666.1 369.5 1667.0 374.0C1667.9 378.5 1668.8 387.8 1669.6 394.0C1670.4 400.2 1671.1 409.0 1672.0 411.0C1672.9 413.0 1674.2 409.5 1675.0 406.0C1675.8 402.5 1676.4 397.7 1677.0 390.0C1677.6 382.3 1677.9 367.3 1678.4 360.0C1678.9 352.7 1679.5 346.0 1680.0 346.0C1680.5 346.0 1681.2 353.0 1681.6 360.0C1682.0 367.0 1682.0 383.2 1682.4 388.0C1682.8 392.8 1682.9 388.8 1684.0 389.0C1685.1 389.2 1687.2 389.0 1689.0 389.0C1690.8 389.0 1694.0 389.0 1695.0 389.0"/>
</g>
<text x="279.0" y="566.5" font-size="33.0" class="ser" text-anchor="middle" fill="#000" textLength="58.5" lengthAdjust="spacingAndGlyphs" stroke="#000" stroke-width="0.3">2925</text>
<text x="530.5" y="610.0" font-size="33.0" class="ser" text-anchor="middle" fill="#000" textLength="57.5" lengthAdjust="spacingAndGlyphs" stroke="#000" stroke-width="0.3">1740</text>
<text x="632.0" y="740.0" font-size="33.0" class="ser" text-anchor="middle" fill="#000" textLength="57.5" lengthAdjust="spacingAndGlyphs" stroke="#000" stroke-width="0.3">1654</text>
<text x="711.5" y="504.0" font-size="33.0" class="ser" text-anchor="middle" fill="#000" textLength="57.5" lengthAdjust="spacingAndGlyphs" stroke="#000" stroke-width="0.3">1587</text>
<text x="775.5" y="616.0" font-size="33.0" class="ser" text-anchor="middle" fill="#000" textLength="57.5" lengthAdjust="spacingAndGlyphs" stroke="#000" stroke-width="0.3">1544</text>
<text x="922.0" y="551.0" font-size="33.0" class="ser" text-anchor="middle" fill="#000" textLength="57.5" lengthAdjust="spacingAndGlyphs" stroke="#000" stroke-width="0.3">1417</text>
<text x="1304.5" y="812.0" font-size="33.0" class="ser" text-anchor="middle" fill="#000" textLength="57.0" lengthAdjust="spacingAndGlyphs" stroke="#000" stroke-width="0.3">1114</text>
<text x="1647.0" y="548.0" font-size="33.0" class="ser" text-anchor="middle" fill="#000" textLength="44.0" lengthAdjust="spacingAndGlyphs" stroke="#000" stroke-width="0.3">842</text>
<text x="1356.5" y="520.5" font-size="31.0" class="ser" text-anchor="middle" fill="#000" textLength="64.0" lengthAdjust="spacingAndGlyphs" transform="rotate(-90 1356.5 520.5)" stroke="#000" stroke-width="0.3">1077</text>
<text x="1390.0" y="509.5" font-size="31.0" class="ser" text-anchor="middle" fill="#000" textLength="64.0" lengthAdjust="spacingAndGlyphs" transform="rotate(-90 1390.0 509.5)" stroke="#000" stroke-width="0.3">1060</text>
</g>
<g id="panel-b">
<text x="10.5" y="973.0" font-size="39.5" class="ser" font-weight="bold" fill="#000" textLength="49.5" lengthAdjust="spacingAndGlyphs">(b)</text>
<line x1="168.8" y1="1570.4" x2="1736" y2="1570.4" stroke="#dedede" stroke-width="1.3"/>
<line x1="168.8" y1="1395.4" x2="1736" y2="1395.4" stroke="#dedede" stroke-width="1.3"/>
<line x1="168.8" y1="1220.4" x2="1736" y2="1220.4" stroke="#dedede" stroke-width="1.3"/>
<line x1="168.8" y1="1045.4" x2="1736" y2="1045.4" stroke="#dedede" stroke-width="1.3"/>
<rect x="205.5" y="951.5" width="65.5" height="32.0" fill="#0000ff"/>
<text x="289.5" y="972.5" font-size="31.0" class="ser" font-weight="bold" fill="#0808b4" textLength="105.0" lengthAdjust="spacingAndGlyphs">Control</text>
<rect x="205.5" y="998.0" width="65.5" height="31.5" fill="#ff0000"/>
<text x="289.5" y="1024.5" font-size="31.0" class="ser" font-weight="bold" fill="#cc1010" textLength="97.0" lengthAdjust="spacingAndGlyphs">SP007s</text>
<rect x="205.5" y="1044.0" width="65.5" height="32.0" fill="#006400"/>
<text x="289.5" y="1072.0" font-size="31.0" class="ser" font-weight="bold" fill="#0c6e1a" textLength="39.0" lengthAdjust="spacingAndGlyphs">SA</text>
<rect x="205.5" y="1092" width="65.5" height="32.5" fill="#ff00ff"/>
<text x="285.5" y="1118.6" font-size="33.5" class="ser" font-weight="bold" fill="#d818d8" textLength="134" lengthAdjust="spacingAndGlyphs">Cu(OH)<tspan font-size="21" dy="7">2</tspan></text>
<rect x="214.8" y="1527.2" width="42.7" height="218.7" fill="#0000ff"/>
<rect x="257.2" y="1630.8" width="43.1" height="115.1" fill="#ff0000"/>
<rect x="300.0" y="1602.0" width="45.5" height="143.9" fill="#006400"/>
<rect x="345.2" y="1517.6" width="42.3" height="228.3" fill="#ff00ff"/>
<rect x="473.2" y="1575.6" width="45.1" height="170.3" fill="#0000ff"/>
<rect x="518.0" y="1632.0" width="43.5" height="113.9" fill="#ff0000"/>
<rect x="561.2" y="1633.6" width="44.3" height="112.3" fill="#006400"/>
<rect x="605.2" y="1607.2" width="43.5" height="138.7" fill="#ff00ff"/>
<rect x="734.4" y="1438.8" width="45.1" height="307.1" fill="#0000ff"/>
<rect x="779.2" y="1610.8" width="43.1" height="135.1" fill="#ff0000"/>
<rect x="822.0" y="1541.6" width="43.1" height="204.3" fill="#006400"/>
<rect x="864.8" y="1402.4" width="45.5" height="343.5" fill="#ff00ff"/>
<rect x="995.6" y="1584.8" width="44.7" height="161.1" fill="#0000ff"/>
<rect x="1040.0" y="1674.0" width="43.5" height="71.9" fill="#ff0000"/>
<rect x="1083.2" y="1646.8" width="42.7" height="99.1" fill="#006400"/>
<rect x="1125.6" y="1561.6" width="45.5" height="184.3" fill="#ff00ff"/>
<rect x="1257.0" y="1728.5" width="41.8" height="17.4" fill="#0000ff"/>
<rect x="1298.5" y="1738.1" width="45.5" height="7.8" fill="#ff0000"/>
<rect x="1343.7" y="1735.4" width="43.2" height="10.5" fill="#006400"/>
<rect x="1386.6" y="1741.2" width="45.5" height="4.7" fill="#ff00ff"/>
<rect x="1517.5" y="1217.3" width="42.8" height="528.6" fill="#0000ff"/>
<rect x="1560.0" y="1037.3" width="45.6" height="708.6" fill="#ff0000"/>
<rect x="1605.3" y="1154.5" width="42.1" height="591.4" fill="#006400"/>
<rect x="1647.1" y="1161.4" width="44.2" height="584.5" fill="#ff00ff"/>
<line x1="168.8" y1="915" x2="168.8" y2="1746.9" stroke="#6e6e6e" stroke-width="1.8"/>
<line x1="167.9" y1="1746.2" x2="1736" y2="1746.2" stroke="#555" stroke-width="2"/>
<g stroke="#a4a4a4" stroke-width="1.05" fill="none">
<path d="M225.0 1514.8H243.0M234.0 1514.8V1539.6M225.0 1539.6H243.0"/>
<path d="M268.2 1620.4H286.2M277.2 1620.4V1642.0M268.2 1642.0H286.2"/>
<path d="M311.0 1601.0H329.0M320.0 1601.0V1605.0M311.0 1605.0H329.0"/>
<path d="M356.2 1502.0H374.2M365.2 1502.0V1533.2M356.2 1533.2H374.2"/>
<path d="M486.2 1568.0H504.2M495.2 1568.0V1585.2M486.2 1585.2H504.2"/>
<path d="M529.8 1628.0H547.8M538.8 1628.0V1635.6M529.8 1635.6H547.8"/>
<path d="M573.8 1628.0H591.8M582.8 1628.0V1639.2M573.8 1639.2H591.8"/>
<path d="M617.0 1602.0H635.0M626.0 1602.0V1617.2M617.0 1617.2H635.0"/>
<path d="M747.4 1431.2H765.4M756.4 1431.2V1448.0M747.4 1448.0H765.4"/>
<path d="M791.0 1598.8H809.0M800.0 1598.8V1622.8M791.0 1622.8H809.0"/>
<path d="M833.4 1519.6H851.4M842.4 1519.6V1566.0M833.4 1566.0H851.4"/>
<path d="M877.8 1382.8H895.8M886.8 1382.8V1422.0M877.8 1422.0H895.8"/>
<path d="M1009.0 1580.0H1027.0M1018.0 1580.0V1589.6M1009.0 1589.6H1027.0"/>
<path d="M1053.0 1668.8H1071.0M1062.0 1668.8V1680.4M1053.0 1680.4H1071.0"/>
<path d="M1096.2 1635.6H1114.2M1105.2 1635.6V1658.8M1096.2 1658.8H1114.2"/>
<path d="M1139.8 1559.2H1157.8M1148.8 1559.2V1564.8M1139.8 1564.8H1157.8"/>
<path d="M1269.0 1727.5H1287.0M1278.0 1727.5V1729.5M1269.0 1729.5H1287.0"/>
<path d="M1356.0 1734.3H1374.0M1365.0 1734.3V1736.3M1356.0 1736.3H1374.0"/>
<path d="M1530.8 1194.6H1548.8M1539.8 1194.6V1237.1M1530.8 1237.1H1548.8"/>
<path d="M1575.0 1016.0H1593.0M1584.0 1016.0V1059.5M1575.0 1059.5H1593.0"/>
<path d="M1618.6 1127.4H1636.6M1627.6 1127.4V1181.3M1618.6 1181.3H1636.6"/>
<path d="M1661.8 1146.3H1679.8M1670.8 1146.3V1174.4M1661.8 1174.4H1679.8"/>
</g>
<text x="236.8" y="1498.3" font-size="31.5" class="ser" text-anchor="middle" fill="#000" textLength="15.1" lengthAdjust="spacingAndGlyphs">a</text>
<text x="275.2" y="1609.5" font-size="31.5" class="ser" text-anchor="middle" fill="#000" textLength="15.1" lengthAdjust="spacingAndGlyphs">c</text>
<text x="320.0" y="1600.7" font-size="31.5" class="ser" text-anchor="middle" fill="#000" textLength="17.0" lengthAdjust="spacingAndGlyphs">b</text>
<text x="368.0" y="1485.5" font-size="31.5" class="ser" text-anchor="middle" fill="#000" textLength="15.1" lengthAdjust="spacingAndGlyphs">a</text>
<text x="496.0" y="1544.7" font-size="31.5" class="ser" text-anchor="middle" fill="#000" textLength="15.1" lengthAdjust="spacingAndGlyphs">a</text>
<text x="535.2" y="1621.5" font-size="31.5" class="ser" text-anchor="middle" fill="#000" textLength="15.1" lengthAdjust="spacingAndGlyphs">c</text>
<text x="576.0" y="1621.5" font-size="31.5" class="ser" text-anchor="middle" fill="#000" textLength="15.1" lengthAdjust="spacingAndGlyphs">c</text>
<text x="627.2" y="1589.5" font-size="31.5" class="ser" text-anchor="middle" fill="#000" textLength="17.0" lengthAdjust="spacingAndGlyphs">b</text>
<text x="754.8" y="1423.5" font-size="31.5" class="ser" text-anchor="middle" fill="#000" textLength="17.0" lengthAdjust="spacingAndGlyphs">b</text>
<text x="800.8" y="1577.5" font-size="31.5" class="ser" text-anchor="middle" fill="#000" textLength="17.0" lengthAdjust="spacingAndGlyphs">d</text>
<text x="836.8" y="1498.3" font-size="31.5" class="ser" text-anchor="middle" fill="#000" textLength="15.1" lengthAdjust="spacingAndGlyphs">c</text>
<text x="885.2" y="1364.3" font-size="31.5" class="ser" text-anchor="middle" fill="#000" textLength="15.1" lengthAdjust="spacingAndGlyphs">a</text>
<text x="1018.0" y="1569.5" font-size="31.5" class="ser" text-anchor="middle" fill="#000" textLength="17.0" lengthAdjust="spacingAndGlyphs">b</text>
<text x="1062.8" y="1643.5" font-size="31.5" class="ser" text-anchor="middle" fill="#000" textLength="17.0" lengthAdjust="spacingAndGlyphs">d</text>
<text x="1102.8" y="1615.5" font-size="31.5" class="ser" text-anchor="middle" fill="#000" textLength="15.1" lengthAdjust="spacingAndGlyphs">c</text>
<text x="1146.0" y="1537.5" font-size="31.5" class="ser" text-anchor="middle" fill="#000" textLength="15.1" lengthAdjust="spacingAndGlyphs">a</text>
<text x="1274.1" y="1710.2" font-size="31.5" class="ser" text-anchor="middle" fill="#000" textLength="15.1" lengthAdjust="spacingAndGlyphs">a</text>
<text x="1318.7" y="1711.2" font-size="31.5" class="ser" text-anchor="middle" fill="#000" textLength="15.1" lengthAdjust="spacingAndGlyphs">c</text>
<text x="1366.0" y="1714.5" font-size="31.5" class="ser" text-anchor="middle" fill="#000" textLength="17.0" lengthAdjust="spacingAndGlyphs">b</text>
<text x="1410.6" y="1714.5" font-size="31.5" class="ser" text-anchor="middle" fill="#000" textLength="17.0" lengthAdjust="spacingAndGlyphs">d</text>
<text x="1532.0" y="1171.5" font-size="31.5" class="ser" text-anchor="middle" fill="#000" textLength="15.1" lengthAdjust="spacingAndGlyphs">c</text>
<text x="1584.7" y="1001.1" font-size="31.5" class="ser" text-anchor="middle" fill="#000" textLength="15.1" lengthAdjust="spacingAndGlyphs">a</text>
<text x="1624.9" y="1110.5" font-size="31.5" class="ser" text-anchor="middle" fill="#000" textLength="17.0" lengthAdjust="spacingAndGlyphs">b</text>
<text x="1673.9" y="1124.5" font-size="31.5" class="ser" text-anchor="middle" fill="#000" textLength="17.0" lengthAdjust="spacingAndGlyphs">b</text>
<text x="141.0" y="1055.0" font-size="28.0" class="ser" text-anchor="end" fill="#111" stroke="#111" stroke-width="0.2">0.2</text>
<text x="132.5" y="1228.0" font-size="28.0" class="ser" text-anchor="end" fill="#111" stroke="#111" stroke-width="0.2">0.15</text>
<text x="138.0" y="1403.5" font-size="28.0" class="ser" text-anchor="end" fill="#111" stroke="#111" stroke-width="0.2">0.1</text>
<text x="131.0" y="1579.0" font-size="28.0" class="ser" text-anchor="end" fill="#111" stroke="#111" stroke-width="0.2">0.05</text>
<text x="129.0" y="1752.5" font-size="28.0" class="ser" text-anchor="end" fill="#111" stroke="#111" stroke-width="0.2">0</text>
<text x="64.0" y="1295.0" font-size="44.0" class="ser" text-anchor="middle" fill="#222" textLength="203.0" lengthAdjust="spacingAndGlyphs" transform="rotate(-90 64.0 1295.0)">Integral area</text>
<text x="300.0" y="1788.0" font-size="27.5" class="ser" text-anchor="middle" fill="#000" textLength="156.0" lengthAdjust="spacingAndGlyphs" stroke="#000" stroke-width="0.3">Phospholipid</text>
<text x="300.0" y="1821.5" font-size="27.5" class="ser" text-anchor="middle" fill="#000" stroke="#000" stroke-width="0.3" textLength="208.0" lengthAdjust="spacingAndGlyphs">(3000-2800 cm<tspan font-size="16" dy="-10" font-weight="bold">-1</tspan><tspan dy="10">)</tspan></text>
<text x="563.0" y="1788.0" font-size="27.5" class="ser" text-anchor="middle" fill="#000" textLength="74.0" lengthAdjust="spacingAndGlyphs" stroke="#000" stroke-width="0.3">Pectin</text>
<text x="563.0" y="1821.5" font-size="27.5" class="ser" text-anchor="middle" fill="#000" stroke="#000" stroke-width="0.3" textLength="139.5" lengthAdjust="spacingAndGlyphs">(1740 cm<tspan font-size="16" dy="-10" font-weight="bold">-1</tspan><tspan dy="10">)</tspan></text>
<text x="822.0" y="1788.0" font-size="27.5" class="ser" text-anchor="middle" fill="#000" textLength="96.0" lengthAdjust="spacingAndGlyphs" stroke="#000" stroke-width="0.3">Amide I</text>
<text x="822.0" y="1821.5" font-size="27.5" class="ser" text-anchor="middle" fill="#000" stroke="#000" stroke-width="0.3" textLength="208.0" lengthAdjust="spacingAndGlyphs">(1700-1600 cm<tspan font-size="16" dy="-10" font-weight="bold">-1</tspan><tspan dy="10">)</tspan></text>
<text x="1089.0" y="1788.0" font-size="27.5" class="ser" text-anchor="middle" fill="#000" textLength="106.0" lengthAdjust="spacingAndGlyphs" stroke="#000" stroke-width="0.3">Amide II</text>
<text x="1089.0" y="1821.5" font-size="27.5" class="ser" text-anchor="middle" fill="#000" stroke="#000" stroke-width="0.3" textLength="207.5" lengthAdjust="spacingAndGlyphs">(1600-1500 cm<tspan font-size="16" dy="-10" font-weight="bold">-1</tspan><tspan dy="10">)</tspan></text>
<text x="1344.5" y="1788.0" font-size="27.5" class="ser" text-anchor="middle" fill="#000" textLength="79.0" lengthAdjust="spacingAndGlyphs" stroke="#000" stroke-width="0.3">Lignin</text>
<text x="1344.5" y="1821.5" font-size="27.5" class="ser" text-anchor="middle" fill="#000" stroke="#000" stroke-width="0.3" textLength="139.5" lengthAdjust="spacingAndGlyphs">(1513 cm<tspan font-size="16" dy="-10" font-weight="bold">-1</tspan><tspan dy="10">)</tspan></text>
<text x="1602.0" y="1788.0" font-size="27.5" class="ser" text-anchor="middle" fill="#000" textLength="179.0" lengthAdjust="spacingAndGlyphs" stroke="#000" stroke-width="0.3">Polysaccharide</text>
<text x="1602.0" y="1821.5" font-size="27.5" class="ser" text-anchor="middle" fill="#000" stroke="#000" stroke-width="0.3" textLength="194.0" lengthAdjust="spacingAndGlyphs">(1200-900 cm<tspan font-size="16" dy="-10" font-weight="bold">-1</tspan><tspan dy="10">)</tspan></text>
</g>
</svg></body></html>
